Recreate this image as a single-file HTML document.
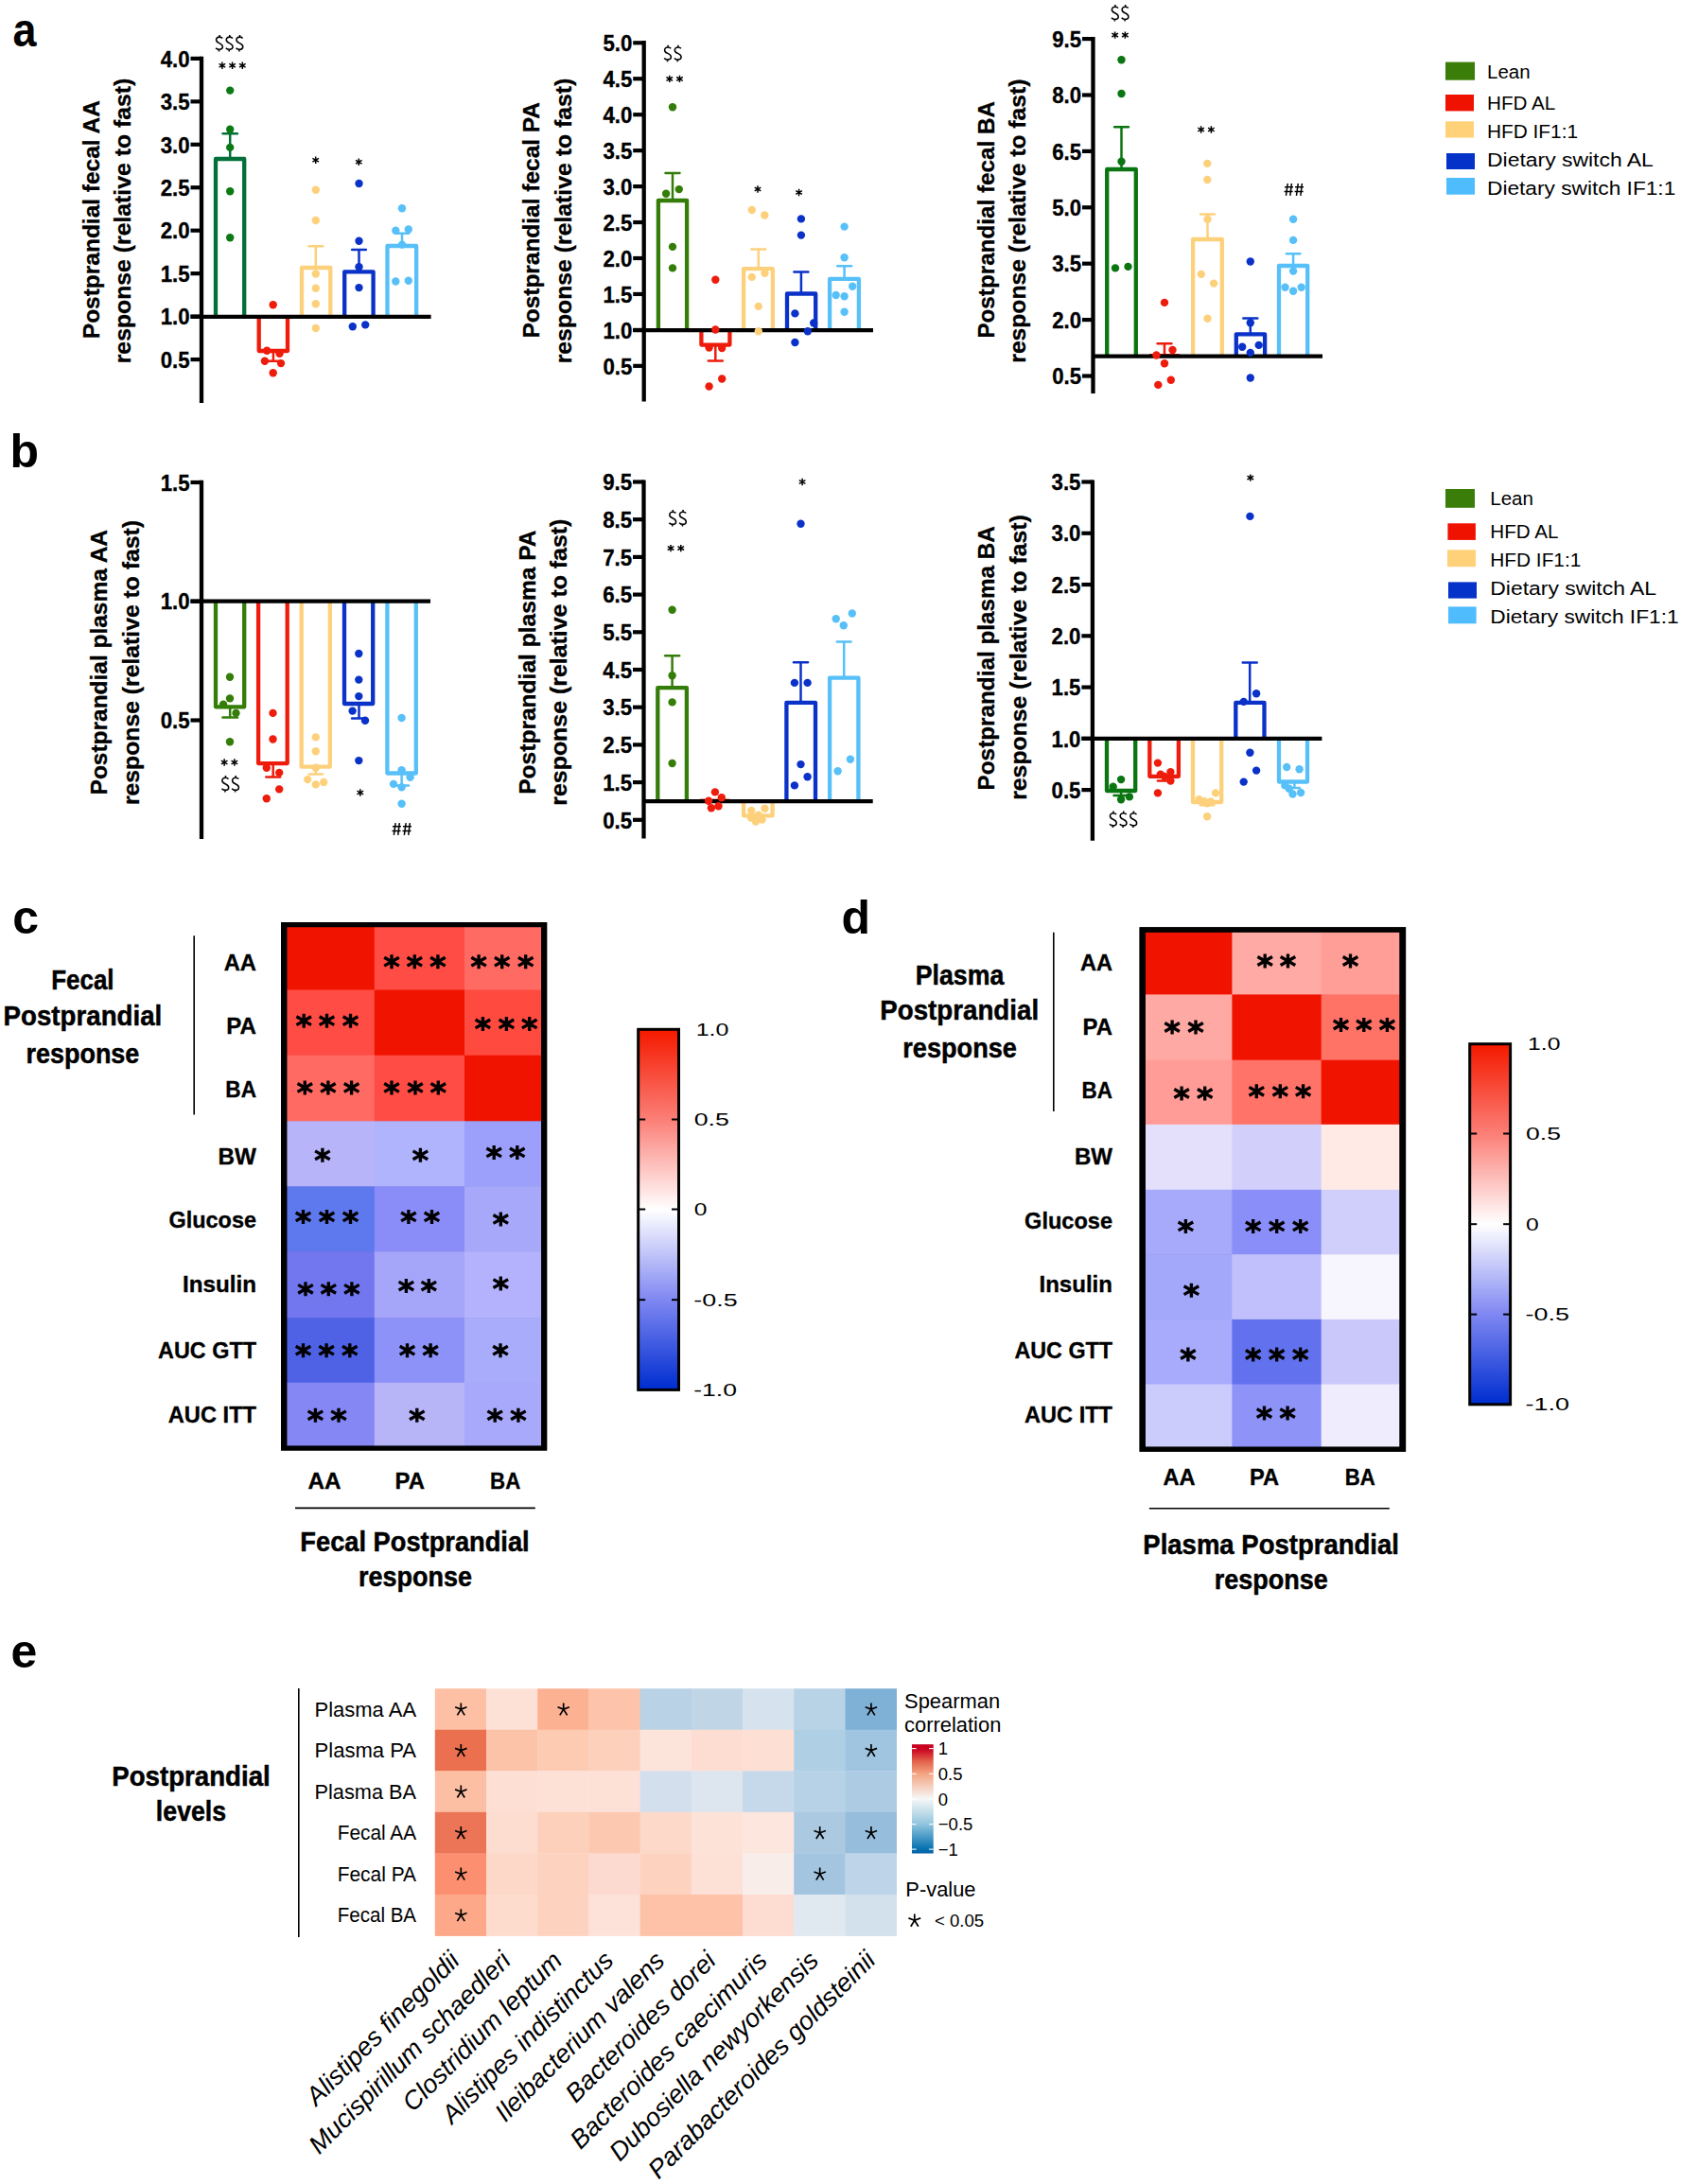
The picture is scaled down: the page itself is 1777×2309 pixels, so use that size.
<!DOCTYPE html>
<html><head><meta charset="utf-8"><title>Figure</title>
<style>
html,body{margin:0;padding:0;background:#fff;}
svg{display:block;font-family:"Liberation Sans", sans-serif;}
.k{fill:none;stroke:#000;}
</style></head><body>
<svg width="1777" height="2309" viewBox="0 0 1777 2309">
<defs>
<linearGradient id="gcd" x1="0" y1="0" x2="0" y2="1">
<stop offset="0" stop-color="#f51a00"/><stop offset="0.25" stop-color="#fb8078"/><stop offset="0.5" stop-color="#ffffff"/><stop offset="0.75" stop-color="#8088f2"/><stop offset="1" stop-color="#002ed0"/>
</linearGradient>
<linearGradient id="ge" x1="0" y1="0" x2="0" y2="1">
<stop offset="0" stop-color="#c4001e"/><stop offset="0.04" stop-color="#ca0020"/><stop offset="0.155" stop-color="#e2614a"/><stop offset="0.27" stop-color="#f4a582"/><stop offset="0.5" stop-color="#f7f7f7"/><stop offset="0.73" stop-color="#92c5de"/><stop offset="0.96" stop-color="#0571b0"/><stop offset="1" stop-color="#0560a8"/>
</linearGradient>
</defs>
<rect width="1777" height="2309" fill="#fff"/>

<text x="13.40" y="49.00" font-size="50" text-anchor="start" font-weight="bold" textLength="25.00" lengthAdjust="spacingAndGlyphs">a</text>
<text x="10.40" y="494.00" font-size="50" text-anchor="start" font-weight="bold">b</text>
<text x="13.20" y="987.30" font-size="50" text-anchor="start" font-weight="bold">c</text>
<text x="889.50" y="987.00" font-size="50" text-anchor="start" font-weight="bold">d</text>
<text x="11.50" y="1763.00" font-size="50" text-anchor="start" font-weight="bold">e</text>
<path d="M228.00 334.80V168.00H258.20V334.80" fill="none" stroke="#027038" stroke-width="4.3" stroke-linejoin="round"/>
<line x1="243.20" y1="168.00" x2="243.20" y2="141.30" stroke="#027038" stroke-width="2.5"/>
<line x1="235.60" y1="141.30" x2="250.80" y2="141.30" stroke="#027038" stroke-width="2.5" stroke-linecap="round"/>
<path d="M273.70 334.80V371.00H304.00V334.80" fill="none" stroke="#ee1c0c" stroke-width="4.3" stroke-linejoin="round"/>
<line x1="288.90" y1="371.00" x2="288.90" y2="381.80" stroke="#ee1c0c" stroke-width="2.5"/>
<line x1="282.10" y1="381.80" x2="295.70" y2="381.80" stroke="#ee1c0c" stroke-width="2.5" stroke-linecap="round"/>
<path d="M319.00 334.80V283.00H349.30V334.80" fill="none" stroke="#fdd17c" stroke-width="4.3" stroke-linejoin="round"/>
<line x1="333.80" y1="283.00" x2="333.80" y2="260.20" stroke="#fdd17c" stroke-width="2.5"/>
<line x1="326.40" y1="260.20" x2="341.20" y2="260.20" stroke="#fdd17c" stroke-width="2.5" stroke-linecap="round"/>
<path d="M364.20 334.80V287.30H394.60V334.80" fill="none" stroke="#0a32c8" stroke-width="4.3" stroke-linejoin="round"/>
<line x1="379.50" y1="287.30" x2="379.50" y2="264.00" stroke="#0a32c8" stroke-width="2.5"/>
<line x1="372.10" y1="264.00" x2="386.90" y2="264.00" stroke="#0a32c8" stroke-width="2.5" stroke-linecap="round"/>
<path d="M409.50 334.80V260.00H440.10V334.80" fill="none" stroke="#58c0f8" stroke-width="4.3" stroke-linejoin="round"/>
<line x1="425.00" y1="260.00" x2="425.00" y2="246.70" stroke="#58c0f8" stroke-width="2.5"/>
<line x1="417.80" y1="246.70" x2="432.20" y2="246.70" stroke="#58c0f8" stroke-width="2.5" stroke-linecap="round"/>
<line x1="213.00" y1="59.80" x2="213.00" y2="426.00" stroke="#000" stroke-width="4.3"/>
<line x1="201.50" y1="61.90" x2="213.20" y2="61.90" stroke="#000" stroke-width="4.2"/>
<text x="200.60" y="70.60" font-size="24.4" text-anchor="end" font-weight="bold" textLength="30.90" lengthAdjust="spacingAndGlyphs" stroke="#000" stroke-width="0.35">4.0</text>
<line x1="201.50" y1="107.35" x2="213.20" y2="107.35" stroke="#000" stroke-width="4.2"/>
<text x="200.60" y="116.05" font-size="24.4" text-anchor="end" font-weight="bold" textLength="30.90" lengthAdjust="spacingAndGlyphs" stroke="#000" stroke-width="0.35">3.5</text>
<line x1="201.50" y1="152.80" x2="213.20" y2="152.80" stroke="#000" stroke-width="4.2"/>
<text x="200.60" y="161.50" font-size="24.4" text-anchor="end" font-weight="bold" textLength="30.90" lengthAdjust="spacingAndGlyphs" stroke="#000" stroke-width="0.35">3.0</text>
<line x1="201.50" y1="198.25" x2="213.20" y2="198.25" stroke="#000" stroke-width="4.2"/>
<text x="200.60" y="206.95" font-size="24.4" text-anchor="end" font-weight="bold" textLength="30.90" lengthAdjust="spacingAndGlyphs" stroke="#000" stroke-width="0.35">2.5</text>
<line x1="201.50" y1="243.70" x2="213.20" y2="243.70" stroke="#000" stroke-width="4.2"/>
<text x="200.60" y="252.40" font-size="24.4" text-anchor="end" font-weight="bold" textLength="30.90" lengthAdjust="spacingAndGlyphs" stroke="#000" stroke-width="0.35">2.0</text>
<line x1="201.50" y1="289.15" x2="213.20" y2="289.15" stroke="#000" stroke-width="4.2"/>
<text x="200.60" y="297.85" font-size="24.4" text-anchor="end" font-weight="bold" textLength="30.90" lengthAdjust="spacingAndGlyphs" stroke="#000" stroke-width="0.35">1.5</text>
<line x1="201.50" y1="334.60" x2="213.20" y2="334.60" stroke="#000" stroke-width="4.2"/>
<text x="200.60" y="343.30" font-size="24.4" text-anchor="end" font-weight="bold" textLength="30.90" lengthAdjust="spacingAndGlyphs" stroke="#000" stroke-width="0.35">1.0</text>
<line x1="201.50" y1="380.05" x2="213.20" y2="380.05" stroke="#000" stroke-width="4.2"/>
<text x="200.60" y="388.75" font-size="24.4" text-anchor="end" font-weight="bold" textLength="30.90" lengthAdjust="spacingAndGlyphs" stroke="#000" stroke-width="0.35">0.5</text>
<line x1="201.50" y1="334.80" x2="455.60" y2="334.80" stroke="#000" stroke-width="4.2"/>
<circle cx="243.20" cy="95.60" r="4.2" fill="#0c7a14"/>
<circle cx="243.20" cy="136.70" r="4.2" fill="#0c7a14"/>
<circle cx="243.20" cy="155.90" r="4.2" fill="#0c7a14"/>
<circle cx="243.20" cy="202.20" r="4.2" fill="#0c7a14"/>
<circle cx="243.20" cy="251.30" r="4.2" fill="#0c7a14"/>
<circle cx="288.70" cy="322.20" r="4.2" fill="#ee1c0c"/>
<circle cx="282.20" cy="370.80" r="4.2" fill="#ee1c0c"/>
<circle cx="295.50" cy="373.80" r="4.2" fill="#ee1c0c"/>
<circle cx="279.90" cy="381.80" r="4.2" fill="#ee1c0c"/>
<circle cx="297.00" cy="384.10" r="4.2" fill="#ee1c0c"/>
<circle cx="288.70" cy="394.20" r="4.2" fill="#ee1c0c"/>
<circle cx="333.80" cy="200.80" r="4.2" fill="#fdd17c"/>
<circle cx="333.80" cy="233.00" r="4.2" fill="#fdd17c"/>
<circle cx="333.80" cy="289.50" r="4.2" fill="#fdd17c"/>
<circle cx="333.80" cy="304.70" r="4.2" fill="#fdd17c"/>
<circle cx="333.80" cy="321.30" r="4.2" fill="#fdd17c"/>
<circle cx="333.80" cy="347.00" r="4.2" fill="#fdd17c"/>
<circle cx="379.50" cy="194.00" r="4.2" fill="#0a32c8"/>
<circle cx="379.50" cy="254.80" r="4.2" fill="#0a32c8"/>
<circle cx="379.50" cy="282.20" r="4.2" fill="#0a32c8"/>
<circle cx="379.50" cy="304.10" r="4.2" fill="#0a32c8"/>
<circle cx="372.80" cy="345.30" r="4.2" fill="#0a32c8"/>
<circle cx="386.20" cy="343.40" r="4.2" fill="#0a32c8"/>
<circle cx="425.00" cy="220.30" r="4.2" fill="#58c0f8"/>
<circle cx="418.30" cy="243.80" r="4.2" fill="#58c0f8"/>
<circle cx="431.80" cy="242.50" r="4.2" fill="#58c0f8"/>
<circle cx="425.00" cy="258.60" r="4.2" fill="#58c0f8"/>
<circle cx="418.30" cy="297.50" r="4.2" fill="#58c0f8"/>
<circle cx="431.80" cy="296.70" r="4.2" fill="#58c0f8"/>
<text x="104.80" y="232.15" font-size="23.2" text-anchor="middle" font-weight="bold" textLength="252.10" lengthAdjust="spacingAndGlyphs" transform="rotate(-90 104.80 232.15)" stroke="#000" stroke-width="0.3">Postprandial fecal AA</text>
<text x="138.30" y="233.50" font-size="23.2" text-anchor="middle" font-weight="bold" textLength="301.60" lengthAdjust="spacingAndGlyphs" transform="rotate(-90 138.30 233.50)" stroke="#000" stroke-width="0.3">response (relative to fast)</text>
<path class="k" d="M3.4 -5.2C2.6 -6.2 1.5 -6.6 0.2 -6.6C-1.8 -6.6 -3.25 -5.4 -3.25 -3.6C-3.25 -1.9 -2.2 -1 0 -0.1C2.35 0.9 3.55 1.8 3.55 3.6C3.55 5.5 2.1 6.6 0 6.6C-1.5 6.6 -2.7 6.1 -3.7 5M0.3 -8.8V-6.4M-0.3 6.4V8.8" stroke-width="1.55" transform="translate(231.80 45.70)"/>
<path class="k" d="M3.4 -5.2C2.6 -6.2 1.5 -6.6 0.2 -6.6C-1.8 -6.6 -3.25 -5.4 -3.25 -3.6C-3.25 -1.9 -2.2 -1 0 -0.1C2.35 0.9 3.55 1.8 3.55 3.6C3.55 5.5 2.1 6.6 0 6.6C-1.5 6.6 -2.7 6.1 -3.7 5M0.3 -8.8V-6.4M-0.3 6.4V8.8" stroke-width="1.55" transform="translate(242.50 45.70)"/>
<path class="k" d="M3.4 -5.2C2.6 -6.2 1.5 -6.6 0.2 -6.6C-1.8 -6.6 -3.25 -5.4 -3.25 -3.6C-3.25 -1.9 -2.2 -1 0 -0.1C2.35 0.9 3.55 1.8 3.55 3.6C3.55 5.5 2.1 6.6 0 6.6C-1.5 6.6 -2.7 6.1 -3.7 5M0.3 -8.8V-6.4M-0.3 6.4V8.8" stroke-width="1.55" transform="translate(253.20 45.70)"/>
<path class="k" d="M0 -3.7V3.7M-3.3 -1.9L3.3 1.9M-3.3 1.9L3.3 -1.9" stroke-width="1.5" transform="translate(234.90 69.30)"/>
<path class="k" d="M0 -3.7V3.7M-3.3 -1.9L3.3 1.9M-3.3 1.9L3.3 -1.9" stroke-width="1.5" transform="translate(245.60 69.30)"/>
<path class="k" d="M0 -3.7V3.7M-3.3 -1.9L3.3 1.9M-3.3 1.9L3.3 -1.9" stroke-width="1.5" transform="translate(256.30 69.30)"/>
<path class="k" d="M0 -3.7V3.7M-3.3 -1.9L3.3 1.9M-3.3 1.9L3.3 -1.9" stroke-width="1.5" transform="translate(333.70 169.30)"/>
<path class="k" d="M0 -3.7V3.7M-3.3 -1.9L3.3 1.9M-3.3 1.9L3.3 -1.9" stroke-width="1.5" transform="translate(379.30 171.30)"/>
<path d="M695.90 349.10V212.00H726.10V349.10" fill="none" stroke="#347d09" stroke-width="4.3" stroke-linejoin="round"/>
<line x1="711.00" y1="212.00" x2="711.00" y2="183.00" stroke="#347d09" stroke-width="2.5"/>
<line x1="703.50" y1="183.00" x2="718.50" y2="183.00" stroke="#347d09" stroke-width="2.5" stroke-linecap="round"/>
<path d="M741.40 349.10V364.60H771.40V349.10" fill="none" stroke="#ee1c0c" stroke-width="4.3" stroke-linejoin="round"/>
<line x1="756.30" y1="364.60" x2="756.30" y2="381.40" stroke="#ee1c0c" stroke-width="2.5"/>
<line x1="748.80" y1="381.40" x2="763.80" y2="381.40" stroke="#ee1c0c" stroke-width="2.5" stroke-linecap="round"/>
<path d="M786.10 349.10V284.20H816.90V349.10" fill="none" stroke="#fdd17c" stroke-width="4.3" stroke-linejoin="round"/>
<line x1="801.80" y1="284.20" x2="801.80" y2="263.40" stroke="#fdd17c" stroke-width="2.5"/>
<line x1="794.40" y1="263.40" x2="809.20" y2="263.40" stroke="#fdd17c" stroke-width="2.5" stroke-linecap="round"/>
<path d="M832.00 349.10V310.50H862.20V349.10" fill="none" stroke="#0a32c8" stroke-width="4.3" stroke-linejoin="round"/>
<line x1="846.90" y1="310.50" x2="846.90" y2="287.60" stroke="#0a32c8" stroke-width="2.5"/>
<line x1="839.40" y1="287.60" x2="854.40" y2="287.60" stroke="#0a32c8" stroke-width="2.5" stroke-linecap="round"/>
<path d="M877.10 349.10V294.90H907.90V349.10" fill="none" stroke="#58c0f8" stroke-width="4.3" stroke-linejoin="round"/>
<line x1="892.60" y1="294.90" x2="892.60" y2="281.30" stroke="#58c0f8" stroke-width="2.5"/>
<line x1="885.20" y1="281.30" x2="900.00" y2="281.30" stroke="#58c0f8" stroke-width="2.5" stroke-linecap="round"/>
<line x1="680.70" y1="43.10" x2="680.70" y2="424.60" stroke="#000" stroke-width="4.3"/>
<line x1="669.20" y1="45.30" x2="680.90" y2="45.30" stroke="#000" stroke-width="4.2"/>
<text x="668.30" y="54.00" font-size="24.4" text-anchor="end" font-weight="bold" textLength="30.90" lengthAdjust="spacingAndGlyphs" stroke="#000" stroke-width="0.35">5.0</text>
<line x1="669.20" y1="83.25" x2="680.90" y2="83.25" stroke="#000" stroke-width="4.2"/>
<text x="668.30" y="91.95" font-size="24.4" text-anchor="end" font-weight="bold" textLength="30.90" lengthAdjust="spacingAndGlyphs" stroke="#000" stroke-width="0.35">4.5</text>
<line x1="669.20" y1="121.20" x2="680.90" y2="121.20" stroke="#000" stroke-width="4.2"/>
<text x="668.30" y="129.90" font-size="24.4" text-anchor="end" font-weight="bold" textLength="30.90" lengthAdjust="spacingAndGlyphs" stroke="#000" stroke-width="0.35">4.0</text>
<line x1="669.20" y1="159.15" x2="680.90" y2="159.15" stroke="#000" stroke-width="4.2"/>
<text x="668.30" y="167.85" font-size="24.4" text-anchor="end" font-weight="bold" textLength="30.90" lengthAdjust="spacingAndGlyphs" stroke="#000" stroke-width="0.35">3.5</text>
<line x1="669.20" y1="197.10" x2="680.90" y2="197.10" stroke="#000" stroke-width="4.2"/>
<text x="668.30" y="205.80" font-size="24.4" text-anchor="end" font-weight="bold" textLength="30.90" lengthAdjust="spacingAndGlyphs" stroke="#000" stroke-width="0.35">3.0</text>
<line x1="669.20" y1="235.05" x2="680.90" y2="235.05" stroke="#000" stroke-width="4.2"/>
<text x="668.30" y="243.75" font-size="24.4" text-anchor="end" font-weight="bold" textLength="30.90" lengthAdjust="spacingAndGlyphs" stroke="#000" stroke-width="0.35">2.5</text>
<line x1="669.20" y1="273.00" x2="680.90" y2="273.00" stroke="#000" stroke-width="4.2"/>
<text x="668.30" y="281.70" font-size="24.4" text-anchor="end" font-weight="bold" textLength="30.90" lengthAdjust="spacingAndGlyphs" stroke="#000" stroke-width="0.35">2.0</text>
<line x1="669.20" y1="310.95" x2="680.90" y2="310.95" stroke="#000" stroke-width="4.2"/>
<text x="668.30" y="319.65" font-size="24.4" text-anchor="end" font-weight="bold" textLength="30.90" lengthAdjust="spacingAndGlyphs" stroke="#000" stroke-width="0.35">1.5</text>
<line x1="669.20" y1="348.90" x2="680.90" y2="348.90" stroke="#000" stroke-width="4.2"/>
<text x="668.30" y="357.60" font-size="24.4" text-anchor="end" font-weight="bold" textLength="30.90" lengthAdjust="spacingAndGlyphs" stroke="#000" stroke-width="0.35">1.0</text>
<line x1="669.20" y1="386.85" x2="680.90" y2="386.85" stroke="#000" stroke-width="4.2"/>
<text x="668.30" y="395.55" font-size="24.4" text-anchor="end" font-weight="bold" textLength="30.90" lengthAdjust="spacingAndGlyphs" stroke="#000" stroke-width="0.35">0.5</text>
<line x1="669.20" y1="349.10" x2="923.00" y2="349.10" stroke="#000" stroke-width="4.2"/>
<circle cx="711.00" cy="113.30" r="4.2" fill="#347d09"/>
<circle cx="704.10" cy="204.70" r="4.2" fill="#347d09"/>
<circle cx="717.80" cy="200.10" r="4.2" fill="#347d09"/>
<circle cx="711.00" cy="260.90" r="4.2" fill="#347d09"/>
<circle cx="711.00" cy="283.40" r="4.2" fill="#347d09"/>
<circle cx="756.30" cy="295.80" r="4.2" fill="#ee1c0c"/>
<circle cx="756.30" cy="348.50" r="4.2" fill="#ee1c0c"/>
<circle cx="749.60" cy="367.50" r="4.2" fill="#ee1c0c"/>
<circle cx="763.20" cy="368.10" r="4.2" fill="#ee1c0c"/>
<circle cx="763.20" cy="400.50" r="4.2" fill="#ee1c0c"/>
<circle cx="749.60" cy="408.50" r="4.2" fill="#ee1c0c"/>
<circle cx="794.80" cy="222.00" r="4.2" fill="#fdd17c"/>
<circle cx="808.30" cy="227.50" r="4.2" fill="#fdd17c"/>
<circle cx="794.80" cy="292.90" r="4.2" fill="#fdd17c"/>
<circle cx="808.50" cy="288.90" r="4.2" fill="#fdd17c"/>
<circle cx="801.80" cy="323.90" r="4.2" fill="#fdd17c"/>
<circle cx="801.80" cy="350.20" r="4.2" fill="#fdd17c"/>
<circle cx="846.90" cy="231.40" r="4.2" fill="#0a32c8"/>
<circle cx="846.90" cy="248.60" r="4.2" fill="#0a32c8"/>
<circle cx="840.40" cy="331.40" r="4.2" fill="#0a32c8"/>
<circle cx="860.20" cy="341.50" r="4.2" fill="#0a32c8"/>
<circle cx="853.80" cy="350.20" r="4.2" fill="#0a32c8"/>
<circle cx="840.40" cy="362.00" r="4.2" fill="#0a32c8"/>
<circle cx="892.60" cy="239.60" r="4.2" fill="#58c0f8"/>
<circle cx="892.60" cy="272.20" r="4.2" fill="#58c0f8"/>
<circle cx="901.20" cy="302.80" r="4.2" fill="#58c0f8"/>
<circle cx="883.70" cy="312.00" r="4.2" fill="#58c0f8"/>
<circle cx="892.60" cy="313.30" r="4.2" fill="#58c0f8"/>
<circle cx="892.60" cy="329.80" r="4.2" fill="#58c0f8"/>
<text x="569.70" y="232.80" font-size="23.2" text-anchor="middle" font-weight="bold" textLength="249.60" lengthAdjust="spacingAndGlyphs" transform="rotate(-90 569.70 232.80)" stroke="#000" stroke-width="0.3">Postprandial fecal PA</text>
<text x="603.90" y="233.50" font-size="23.2" text-anchor="middle" font-weight="bold" textLength="301.60" lengthAdjust="spacingAndGlyphs" transform="rotate(-90 603.90 233.50)" stroke="#000" stroke-width="0.3">response (relative to fast)</text>
<path class="k" d="M3.4 -5.2C2.6 -6.2 1.5 -6.6 0.2 -6.6C-1.8 -6.6 -3.25 -5.4 -3.25 -3.6C-3.25 -1.9 -2.2 -1 0 -0.1C2.35 0.9 3.55 1.8 3.55 3.6C3.55 5.5 2.1 6.6 0 6.6C-1.5 6.6 -2.7 6.1 -3.7 5M0.3 -8.8V-6.4M-0.3 6.4V8.8" stroke-width="1.55" transform="translate(705.85 56.50)"/>
<path class="k" d="M3.4 -5.2C2.6 -6.2 1.5 -6.6 0.2 -6.6C-1.8 -6.6 -3.25 -5.4 -3.25 -3.6C-3.25 -1.9 -2.2 -1 0 -0.1C2.35 0.9 3.55 1.8 3.55 3.6C3.55 5.5 2.1 6.6 0 6.6C-1.5 6.6 -2.7 6.1 -3.7 5M0.3 -8.8V-6.4M-0.3 6.4V8.8" stroke-width="1.55" transform="translate(716.55 56.50)"/>
<path class="k" d="M0 -3.7V3.7M-3.3 -1.9L3.3 1.9M-3.3 1.9L3.3 -1.9" stroke-width="1.5" transform="translate(707.75 83.40)"/>
<path class="k" d="M0 -3.7V3.7M-3.3 -1.9L3.3 1.9M-3.3 1.9L3.3 -1.9" stroke-width="1.5" transform="translate(718.45 83.40)"/>
<path class="k" d="M0 -3.7V3.7M-3.3 -1.9L3.3 1.9M-3.3 1.9L3.3 -1.9" stroke-width="1.5" transform="translate(801.00 200.00)"/>
<path class="k" d="M0 -3.7V3.7M-3.3 -1.9L3.3 1.9M-3.3 1.9L3.3 -1.9" stroke-width="1.5" transform="translate(844.60 203.50)"/>
<path d="M1170.20 376.70V179.00H1200.80V376.70" fill="none" stroke="#0b7511" stroke-width="4.3" stroke-linejoin="round"/>
<line x1="1185.50" y1="179.00" x2="1185.50" y2="134.20" stroke="#0b7511" stroke-width="2.5"/>
<line x1="1178.10" y1="134.20" x2="1192.90" y2="134.20" stroke="#0b7511" stroke-width="2.5" stroke-linecap="round"/>
<line x1="1215.00" y1="374.60" x2="1247.00" y2="374.60" stroke="#ee1c0c" stroke-width="1.2"/>
<line x1="1231.00" y1="374.60" x2="1231.00" y2="363.30" stroke="#ee1c0c" stroke-width="2.5"/>
<line x1="1223.60" y1="363.30" x2="1238.40" y2="363.30" stroke="#ee1c0c" stroke-width="2.5" stroke-linecap="round"/>
<path d="M1261.10 376.70V253.00H1291.80V376.70" fill="none" stroke="#fdd17c" stroke-width="4.3" stroke-linejoin="round"/>
<line x1="1276.50" y1="253.00" x2="1276.50" y2="226.60" stroke="#fdd17c" stroke-width="2.5"/>
<line x1="1269.10" y1="226.60" x2="1283.90" y2="226.60" stroke="#fdd17c" stroke-width="2.5" stroke-linecap="round"/>
<path d="M1306.80 376.70V353.30H1337.10V376.70" fill="none" stroke="#0a32c8" stroke-width="4.3" stroke-linejoin="round"/>
<line x1="1321.80" y1="353.30" x2="1321.80" y2="336.50" stroke="#0a32c8" stroke-width="2.5"/>
<line x1="1314.30" y1="336.50" x2="1329.30" y2="336.50" stroke="#0a32c8" stroke-width="2.5" stroke-linecap="round"/>
<path d="M1352.00 376.70V281.00H1382.20V376.70" fill="none" stroke="#58c0f8" stroke-width="4.3" stroke-linejoin="round"/>
<line x1="1367.10" y1="281.00" x2="1367.10" y2="268.20" stroke="#58c0f8" stroke-width="2.5"/>
<line x1="1359.90" y1="268.20" x2="1374.30" y2="268.20" stroke="#58c0f8" stroke-width="2.5" stroke-linecap="round"/>
<line x1="1155.50" y1="38.90" x2="1155.50" y2="416.00" stroke="#000" stroke-width="4.3"/>
<line x1="1144.00" y1="41.10" x2="1155.70" y2="41.10" stroke="#000" stroke-width="4.2"/>
<text x="1143.10" y="49.80" font-size="24.4" text-anchor="end" font-weight="bold" textLength="30.90" lengthAdjust="spacingAndGlyphs" stroke="#000" stroke-width="0.35">9.5</text>
<line x1="1144.00" y1="100.50" x2="1155.70" y2="100.50" stroke="#000" stroke-width="4.2"/>
<text x="1143.10" y="109.20" font-size="24.4" text-anchor="end" font-weight="bold" textLength="30.90" lengthAdjust="spacingAndGlyphs" stroke="#000" stroke-width="0.35">8.0</text>
<line x1="1144.00" y1="159.90" x2="1155.70" y2="159.90" stroke="#000" stroke-width="4.2"/>
<text x="1143.10" y="168.60" font-size="24.4" text-anchor="end" font-weight="bold" textLength="30.90" lengthAdjust="spacingAndGlyphs" stroke="#000" stroke-width="0.35">6.5</text>
<line x1="1144.00" y1="219.30" x2="1155.70" y2="219.30" stroke="#000" stroke-width="4.2"/>
<text x="1143.10" y="228.00" font-size="24.4" text-anchor="end" font-weight="bold" textLength="30.90" lengthAdjust="spacingAndGlyphs" stroke="#000" stroke-width="0.35">5.0</text>
<line x1="1144.00" y1="278.70" x2="1155.70" y2="278.70" stroke="#000" stroke-width="4.2"/>
<text x="1143.10" y="287.40" font-size="24.4" text-anchor="end" font-weight="bold" textLength="30.90" lengthAdjust="spacingAndGlyphs" stroke="#000" stroke-width="0.35">3.5</text>
<line x1="1144.00" y1="338.10" x2="1155.70" y2="338.10" stroke="#000" stroke-width="4.2"/>
<text x="1143.10" y="346.80" font-size="24.4" text-anchor="end" font-weight="bold" textLength="30.90" lengthAdjust="spacingAndGlyphs" stroke="#000" stroke-width="0.35">2.0</text>
<line x1="1144.00" y1="397.50" x2="1155.70" y2="397.50" stroke="#000" stroke-width="4.2"/>
<text x="1143.10" y="406.20" font-size="24.4" text-anchor="end" font-weight="bold" textLength="30.90" lengthAdjust="spacingAndGlyphs" stroke="#000" stroke-width="0.35">0.5</text>
<line x1="1155.70" y1="376.70" x2="1398.00" y2="376.70" stroke="#000" stroke-width="4.2"/>
<circle cx="1185.50" cy="63.20" r="4.2" fill="#0b7511"/>
<circle cx="1185.50" cy="99.00" r="4.2" fill="#0b7511"/>
<circle cx="1185.50" cy="170.80" r="4.2" fill="#0b7511"/>
<circle cx="1179.00" cy="283.40" r="4.2" fill="#0b7511"/>
<circle cx="1192.50" cy="281.90" r="4.2" fill="#0b7511"/>
<circle cx="1231.00" cy="319.90" r="4.2" fill="#ee1c0c"/>
<circle cx="1239.50" cy="370.00" r="4.2" fill="#ee1c0c"/>
<circle cx="1222.40" cy="375.50" r="4.2" fill="#ee1c0c"/>
<circle cx="1231.00" cy="384.30" r="4.2" fill="#ee1c0c"/>
<circle cx="1237.80" cy="401.80" r="4.2" fill="#ee1c0c"/>
<circle cx="1224.30" cy="406.90" r="4.2" fill="#ee1c0c"/>
<circle cx="1276.30" cy="172.90" r="4.2" fill="#fdd17c"/>
<circle cx="1276.30" cy="190.00" r="4.2" fill="#fdd17c"/>
<circle cx="1276.50" cy="231.80" r="4.2" fill="#fdd17c"/>
<circle cx="1269.80" cy="289.90" r="4.2" fill="#fdd17c"/>
<circle cx="1283.10" cy="299.60" r="4.2" fill="#fdd17c"/>
<circle cx="1276.50" cy="336.70" r="4.2" fill="#fdd17c"/>
<circle cx="1321.80" cy="276.50" r="4.2" fill="#0a32c8"/>
<circle cx="1321.80" cy="341.30" r="4.2" fill="#0a32c8"/>
<circle cx="1313.20" cy="366.80" r="4.2" fill="#0a32c8"/>
<circle cx="1330.70" cy="364.90" r="4.2" fill="#0a32c8"/>
<circle cx="1321.80" cy="372.90" r="4.2" fill="#0a32c8"/>
<circle cx="1321.80" cy="399.50" r="4.2" fill="#0a32c8"/>
<circle cx="1367.10" cy="231.80" r="4.2" fill="#58c0f8"/>
<circle cx="1367.10" cy="253.90" r="4.2" fill="#58c0f8"/>
<circle cx="1367.10" cy="286.60" r="4.2" fill="#58c0f8"/>
<circle cx="1358.50" cy="303.80" r="4.2" fill="#58c0f8"/>
<circle cx="1367.10" cy="307.70" r="4.2" fill="#58c0f8"/>
<circle cx="1375.70" cy="303.80" r="4.2" fill="#58c0f8"/>
<text x="1051.20" y="232.35" font-size="23.2" text-anchor="middle" font-weight="bold" textLength="250.50" lengthAdjust="spacingAndGlyphs" transform="rotate(-90 1051.20 232.35)" stroke="#000" stroke-width="0.3">Postprandial fecal BA</text>
<text x="1084.50" y="233.65" font-size="23.2" text-anchor="middle" font-weight="bold" textLength="300.10" lengthAdjust="spacingAndGlyphs" transform="rotate(-90 1084.50 233.65)" stroke="#000" stroke-width="0.3">response (relative to fast)</text>
<path class="k" d="M3.4 -5.2C2.6 -6.2 1.5 -6.6 0.2 -6.6C-1.8 -6.6 -3.25 -5.4 -3.25 -3.6C-3.25 -1.9 -2.2 -1 0 -0.1C2.35 0.9 3.55 1.8 3.55 3.6C3.55 5.5 2.1 6.6 0 6.6C-1.5 6.6 -2.7 6.1 -3.7 5M0.3 -8.8V-6.4M-0.3 6.4V8.8" stroke-width="1.55" transform="translate(1178.65 13.80)"/>
<path class="k" d="M3.4 -5.2C2.6 -6.2 1.5 -6.6 0.2 -6.6C-1.8 -6.6 -3.25 -5.4 -3.25 -3.6C-3.25 -1.9 -2.2 -1 0 -0.1C2.35 0.9 3.55 1.8 3.55 3.6C3.55 5.5 2.1 6.6 0 6.6C-1.5 6.6 -2.7 6.1 -3.7 5M0.3 -8.8V-6.4M-0.3 6.4V8.8" stroke-width="1.55" transform="translate(1189.35 13.80)"/>
<path class="k" d="M0 -3.7V3.7M-3.3 -1.9L3.3 1.9M-3.3 1.9L3.3 -1.9" stroke-width="1.5" transform="translate(1178.65 37.10)"/>
<path class="k" d="M0 -3.7V3.7M-3.3 -1.9L3.3 1.9M-3.3 1.9L3.3 -1.9" stroke-width="1.5" transform="translate(1189.35 37.10)"/>
<path class="k" d="M0 -3.7V3.7M-3.3 -1.9L3.3 1.9M-3.3 1.9L3.3 -1.9" stroke-width="1.5" transform="translate(1269.65 137.00)"/>
<path class="k" d="M0 -3.7V3.7M-3.3 -1.9L3.3 1.9M-3.3 1.9L3.3 -1.9" stroke-width="1.5" transform="translate(1280.35 137.00)"/>
<path class="k" d="M-1.05 -6.4L-2.85 6.4M3.1 -6.4L1.55 6.4M-4.2 -2.7H4.7M-4.7 2.1H4.3" stroke-width="1.5" transform="translate(1362.30 200.40)"/>
<path class="k" d="M-1.05 -6.4L-2.85 6.4M3.1 -6.4L1.55 6.4M-4.2 -2.7H4.7M-4.7 2.1H4.3" stroke-width="1.5" transform="translate(1373.30 200.40)"/>
<rect x="1528.00" y="65.60" width="31.00" height="19.10" fill="#3b7d09"/>
<text x="1572.00" y="83.00" font-size="20.5" text-anchor="start" textLength="45.60" lengthAdjust="spacingAndGlyphs">Lean</text>
<rect x="1528.00" y="100.00" width="30.00" height="17.40" fill="#f01200"/>
<text x="1572.00" y="115.50" font-size="20.5" text-anchor="start" textLength="72.20" lengthAdjust="spacingAndGlyphs">HFD AL</text>
<rect x="1528.00" y="128.30" width="30.00" height="17.30" fill="#ffd279"/>
<text x="1572.00" y="145.50" font-size="20.5" text-anchor="start" textLength="96.00" lengthAdjust="spacingAndGlyphs">HFD IF1:1</text>
<rect x="1529.00" y="162.00" width="30.00" height="17.00" fill="#0532c8"/>
<text x="1572.00" y="175.80" font-size="20.5" text-anchor="start" textLength="175.80" lengthAdjust="spacingAndGlyphs">Dietary switch AL</text>
<rect x="1529.00" y="188.00" width="30.00" height="17.70" fill="#4fbcfd"/>
<text x="1572.00" y="206.00" font-size="20.5" text-anchor="start" textLength="199.30" lengthAdjust="spacingAndGlyphs">Dietary switch IF1:1</text>
<path d="M228.00 635.70V747.30H258.20V635.70" fill="none" stroke="#347d09" stroke-width="4.3" stroke-linejoin="round"/>
<line x1="243.20" y1="747.30" x2="243.20" y2="758.40" stroke="#347d09" stroke-width="2.5"/>
<line x1="235.40" y1="758.40" x2="251.00" y2="758.40" stroke="#347d09" stroke-width="2.5" stroke-linecap="round"/>
<path d="M273.10 635.70V807.10H303.70V635.70" fill="none" stroke="#ee1c0c" stroke-width="4.3" stroke-linejoin="round"/>
<line x1="288.70" y1="807.10" x2="288.70" y2="821.40" stroke="#ee1c0c" stroke-width="2.5"/>
<line x1="281.30" y1="821.40" x2="296.10" y2="821.40" stroke="#ee1c0c" stroke-width="2.5" stroke-linecap="round"/>
<path d="M318.70 635.70V810.70H348.80V635.70" fill="none" stroke="#fdd17c" stroke-width="4.3" stroke-linejoin="round"/>
<line x1="333.80" y1="810.70" x2="333.80" y2="818.60" stroke="#fdd17c" stroke-width="2.5"/>
<line x1="326.60" y1="818.60" x2="341.00" y2="818.60" stroke="#fdd17c" stroke-width="2.5" stroke-linecap="round"/>
<path d="M364.00 635.70V744.00H394.20V635.70" fill="none" stroke="#0a32c8" stroke-width="4.3" stroke-linejoin="round"/>
<line x1="379.50" y1="744.00" x2="379.50" y2="759.40" stroke="#0a32c8" stroke-width="2.5"/>
<line x1="372.10" y1="759.40" x2="386.90" y2="759.40" stroke="#0a32c8" stroke-width="2.5" stroke-linecap="round"/>
<path d="M409.40 635.70V817.50H439.80V635.70" fill="none" stroke="#58c0f8" stroke-width="4.3" stroke-linejoin="round"/>
<line x1="424.60" y1="817.50" x2="424.60" y2="830.40" stroke="#58c0f8" stroke-width="2.5"/>
<line x1="417.20" y1="830.40" x2="432.00" y2="830.40" stroke="#58c0f8" stroke-width="2.5" stroke-linecap="round"/>
<line x1="213.00" y1="507.80" x2="213.00" y2="886.90" stroke="#000" stroke-width="4.3"/>
<line x1="201.50" y1="510.00" x2="213.20" y2="510.00" stroke="#000" stroke-width="4.2"/>
<text x="200.60" y="518.70" font-size="24.4" text-anchor="end" font-weight="bold" textLength="30.90" lengthAdjust="spacingAndGlyphs" stroke="#000" stroke-width="0.35">1.5</text>
<line x1="201.50" y1="635.75" x2="213.20" y2="635.75" stroke="#000" stroke-width="4.2"/>
<text x="200.60" y="644.45" font-size="24.4" text-anchor="end" font-weight="bold" textLength="30.90" lengthAdjust="spacingAndGlyphs" stroke="#000" stroke-width="0.35">1.0</text>
<line x1="201.50" y1="761.50" x2="213.20" y2="761.50" stroke="#000" stroke-width="4.2"/>
<text x="200.60" y="770.20" font-size="24.4" text-anchor="end" font-weight="bold" textLength="30.90" lengthAdjust="spacingAndGlyphs" stroke="#000" stroke-width="0.35">0.5</text>
<line x1="201.50" y1="635.70" x2="455.00" y2="635.70" stroke="#000" stroke-width="4.2"/>
<circle cx="243.00" cy="715.80" r="4.2" fill="#347d09"/>
<circle cx="243.00" cy="738.40" r="4.2" fill="#347d09"/>
<circle cx="236.10" cy="744.70" r="4.2" fill="#347d09"/>
<circle cx="249.50" cy="753.90" r="4.2" fill="#347d09"/>
<circle cx="243.00" cy="784.30" r="4.2" fill="#347d09"/>
<circle cx="288.50" cy="753.90" r="4.2" fill="#ee1c0c"/>
<circle cx="288.50" cy="781.50" r="4.2" fill="#ee1c0c"/>
<circle cx="281.80" cy="811.70" r="4.2" fill="#ee1c0c"/>
<circle cx="295.20" cy="816.90" r="4.2" fill="#ee1c0c"/>
<circle cx="295.20" cy="834.40" r="4.2" fill="#ee1c0c"/>
<circle cx="281.80" cy="844.30" r="4.2" fill="#ee1c0c"/>
<circle cx="333.80" cy="779.40" r="4.2" fill="#fdd17c"/>
<circle cx="333.80" cy="794.20" r="4.2" fill="#fdd17c"/>
<circle cx="333.80" cy="811.70" r="4.2" fill="#fdd17c"/>
<circle cx="325.20" cy="824.10" r="4.2" fill="#fdd17c"/>
<circle cx="342.20" cy="827.00" r="4.2" fill="#fdd17c"/>
<circle cx="333.80" cy="829.40" r="4.2" fill="#fdd17c"/>
<circle cx="379.30" cy="691.00" r="4.2" fill="#0a32c8"/>
<circle cx="379.30" cy="718.60" r="4.2" fill="#0a32c8"/>
<circle cx="379.30" cy="736.10" r="4.2" fill="#0a32c8"/>
<circle cx="372.60" cy="751.60" r="4.2" fill="#0a32c8"/>
<circle cx="386.00" cy="761.70" r="4.2" fill="#0a32c8"/>
<circle cx="379.30" cy="804.10" r="4.2" fill="#0a32c8"/>
<circle cx="424.60" cy="759.00" r="4.2" fill="#58c0f8"/>
<circle cx="424.60" cy="814.20" r="4.2" fill="#58c0f8"/>
<circle cx="433.60" cy="821.80" r="4.2" fill="#58c0f8"/>
<circle cx="416.00" cy="828.90" r="4.2" fill="#58c0f8"/>
<circle cx="424.60" cy="832.30" r="4.2" fill="#58c0f8"/>
<circle cx="424.60" cy="849.80" r="4.2" fill="#58c0f8"/>
<text x="113.30" y="700.20" font-size="23.2" text-anchor="middle" font-weight="bold" textLength="280.40" lengthAdjust="spacingAndGlyphs" transform="rotate(-90 113.30 700.20)" stroke="#000" stroke-width="0.3">Postprandial plasma AA</text>
<text x="146.80" y="700.55" font-size="23.2" text-anchor="middle" font-weight="bold" textLength="301.10" lengthAdjust="spacingAndGlyphs" transform="rotate(-90 146.80 700.55)" stroke="#000" stroke-width="0.3">response (relative to fast)</text>
<path class="k" d="M0 -3.7V3.7M-3.3 -1.9L3.3 1.9M-3.3 1.9L3.3 -1.9" stroke-width="1.5" transform="translate(237.15 806.00)"/>
<path class="k" d="M0 -3.7V3.7M-3.3 -1.9L3.3 1.9M-3.3 1.9L3.3 -1.9" stroke-width="1.5" transform="translate(247.85 806.00)"/>
<path class="k" d="M3.4 -5.2C2.6 -6.2 1.5 -6.6 0.2 -6.6C-1.8 -6.6 -3.25 -5.4 -3.25 -3.6C-3.25 -1.9 -2.2 -1 0 -0.1C2.35 0.9 3.55 1.8 3.55 3.6C3.55 5.5 2.1 6.6 0 6.6C-1.5 6.6 -2.7 6.1 -3.7 5M0.3 -8.8V-6.4M-0.3 6.4V8.8" stroke-width="1.55" transform="translate(238.15 828.80)"/>
<path class="k" d="M3.4 -5.2C2.6 -6.2 1.5 -6.6 0.2 -6.6C-1.8 -6.6 -3.25 -5.4 -3.25 -3.6C-3.25 -1.9 -2.2 -1 0 -0.1C2.35 0.9 3.55 1.8 3.55 3.6C3.55 5.5 2.1 6.6 0 6.6C-1.5 6.6 -2.7 6.1 -3.7 5M0.3 -8.8V-6.4M-0.3 6.4V8.8" stroke-width="1.55" transform="translate(248.85 828.80)"/>
<path class="k" d="M0 -3.7V3.7M-3.3 -1.9L3.3 1.9M-3.3 1.9L3.3 -1.9" stroke-width="1.5" transform="translate(380.80 838.00)"/>
<path class="k" d="M-1.05 -6.4L-2.85 6.4M3.1 -6.4L1.55 6.4M-4.2 -2.7H4.7M-4.7 2.1H4.3" stroke-width="1.5" transform="translate(419.20 876.50)"/>
<path class="k" d="M-1.05 -6.4L-2.85 6.4M3.1 -6.4L1.55 6.4M-4.2 -2.7H4.7M-4.7 2.1H4.3" stroke-width="1.5" transform="translate(430.20 876.50)"/>
<path d="M695.30 847.10V727.10H725.90V847.10" fill="none" stroke="#347d09" stroke-width="4.3" stroke-linejoin="round"/>
<line x1="710.60" y1="727.10" x2="710.60" y2="693.30" stroke="#347d09" stroke-width="2.5"/>
<line x1="703.10" y1="693.30" x2="718.10" y2="693.30" stroke="#347d09" stroke-width="2.5" stroke-linecap="round"/>
<line x1="740.00" y1="845.20" x2="771.30" y2="845.20" stroke="#ee1c0c" stroke-width="1.2"/>
<path d="M786.10 847.10V862.30H816.60V847.10" fill="none" stroke="#fdd17c" stroke-width="4.3" stroke-linejoin="round"/>
<path d="M831.40 847.10V742.90H862.00V847.10" fill="none" stroke="#0a32c8" stroke-width="4.3" stroke-linejoin="round"/>
<line x1="846.50" y1="742.90" x2="846.50" y2="700.20" stroke="#0a32c8" stroke-width="2.5"/>
<line x1="839.00" y1="700.20" x2="854.00" y2="700.20" stroke="#0a32c8" stroke-width="2.5" stroke-linecap="round"/>
<path d="M877.10 847.10V716.60H907.40V847.10" fill="none" stroke="#58c0f8" stroke-width="4.3" stroke-linejoin="round"/>
<line x1="892.20" y1="716.60" x2="892.20" y2="678.60" stroke="#58c0f8" stroke-width="2.5"/>
<line x1="884.80" y1="678.60" x2="899.60" y2="678.60" stroke="#58c0f8" stroke-width="2.5" stroke-linecap="round"/>
<line x1="680.50" y1="507.40" x2="680.50" y2="886.50" stroke="#000" stroke-width="4.3"/>
<line x1="669.00" y1="509.50" x2="680.70" y2="509.50" stroke="#000" stroke-width="4.2"/>
<text x="668.10" y="518.20" font-size="24.4" text-anchor="end" font-weight="bold" textLength="30.90" lengthAdjust="spacingAndGlyphs" stroke="#000" stroke-width="0.35">9.5</text>
<line x1="669.00" y1="549.20" x2="680.70" y2="549.20" stroke="#000" stroke-width="4.2"/>
<text x="668.10" y="557.90" font-size="24.4" text-anchor="end" font-weight="bold" textLength="30.90" lengthAdjust="spacingAndGlyphs" stroke="#000" stroke-width="0.35">8.5</text>
<line x1="669.00" y1="588.90" x2="680.70" y2="588.90" stroke="#000" stroke-width="4.2"/>
<text x="668.10" y="597.60" font-size="24.4" text-anchor="end" font-weight="bold" textLength="30.90" lengthAdjust="spacingAndGlyphs" stroke="#000" stroke-width="0.35">7.5</text>
<line x1="669.00" y1="628.60" x2="680.70" y2="628.60" stroke="#000" stroke-width="4.2"/>
<text x="668.10" y="637.30" font-size="24.4" text-anchor="end" font-weight="bold" textLength="30.90" lengthAdjust="spacingAndGlyphs" stroke="#000" stroke-width="0.35">6.5</text>
<line x1="669.00" y1="668.30" x2="680.70" y2="668.30" stroke="#000" stroke-width="4.2"/>
<text x="668.10" y="677.00" font-size="24.4" text-anchor="end" font-weight="bold" textLength="30.90" lengthAdjust="spacingAndGlyphs" stroke="#000" stroke-width="0.35">5.5</text>
<line x1="669.00" y1="708.00" x2="680.70" y2="708.00" stroke="#000" stroke-width="4.2"/>
<text x="668.10" y="716.70" font-size="24.4" text-anchor="end" font-weight="bold" textLength="30.90" lengthAdjust="spacingAndGlyphs" stroke="#000" stroke-width="0.35">4.5</text>
<line x1="669.00" y1="747.70" x2="680.70" y2="747.70" stroke="#000" stroke-width="4.2"/>
<text x="668.10" y="756.40" font-size="24.4" text-anchor="end" font-weight="bold" textLength="30.90" lengthAdjust="spacingAndGlyphs" stroke="#000" stroke-width="0.35">3.5</text>
<line x1="669.00" y1="787.40" x2="680.70" y2="787.40" stroke="#000" stroke-width="4.2"/>
<text x="668.10" y="796.10" font-size="24.4" text-anchor="end" font-weight="bold" textLength="30.90" lengthAdjust="spacingAndGlyphs" stroke="#000" stroke-width="0.35">2.5</text>
<line x1="669.00" y1="827.10" x2="680.70" y2="827.10" stroke="#000" stroke-width="4.2"/>
<text x="668.10" y="835.80" font-size="24.4" text-anchor="end" font-weight="bold" textLength="30.90" lengthAdjust="spacingAndGlyphs" stroke="#000" stroke-width="0.35">1.5</text>
<line x1="669.00" y1="866.80" x2="680.70" y2="866.80" stroke="#000" stroke-width="4.2"/>
<text x="668.10" y="875.50" font-size="24.4" text-anchor="end" font-weight="bold" textLength="30.90" lengthAdjust="spacingAndGlyphs" stroke="#000" stroke-width="0.35">0.5</text>
<line x1="680.70" y1="847.10" x2="922.70" y2="847.10" stroke="#000" stroke-width="4.2"/>
<circle cx="710.60" cy="644.70" r="4.2" fill="#347d09"/>
<circle cx="710.60" cy="714.30" r="4.2" fill="#347d09"/>
<circle cx="710.60" cy="742.40" r="4.2" fill="#347d09"/>
<circle cx="710.60" cy="807.00" r="4.2" fill="#347d09"/>
<circle cx="755.90" cy="837.40" r="4.2" fill="#ee1c0c"/>
<circle cx="749.10" cy="846.80" r="4.2" fill="#ee1c0c"/>
<circle cx="762.80" cy="843.30" r="4.2" fill="#ee1c0c"/>
<circle cx="751.90" cy="854.20" r="4.2" fill="#ee1c0c"/>
<circle cx="759.50" cy="852.30" r="4.2" fill="#ee1c0c"/>
<circle cx="794.20" cy="857.00" r="4.2" fill="#fdd17c"/>
<circle cx="808.50" cy="854.80" r="4.2" fill="#fdd17c"/>
<circle cx="794.00" cy="864.50" r="4.2" fill="#fdd17c"/>
<circle cx="798.90" cy="868.50" r="4.2" fill="#fdd17c"/>
<circle cx="805.60" cy="866.60" r="4.2" fill="#fdd17c"/>
<circle cx="801.80" cy="861.80" r="4.2" fill="#fdd17c"/>
<circle cx="846.50" cy="553.70" r="4.2" fill="#0a32c8"/>
<circle cx="839.90" cy="721.90" r="4.2" fill="#0a32c8"/>
<circle cx="853.60" cy="721.90" r="4.2" fill="#0a32c8"/>
<circle cx="846.50" cy="808.10" r="4.2" fill="#0a32c8"/>
<circle cx="853.60" cy="821.30" r="4.2" fill="#0a32c8"/>
<circle cx="839.90" cy="830.40" r="4.2" fill="#0a32c8"/>
<circle cx="883.70" cy="654.20" r="4.2" fill="#58c0f8"/>
<circle cx="900.80" cy="648.50" r="4.2" fill="#58c0f8"/>
<circle cx="891.80" cy="661.20" r="4.2" fill="#58c0f8"/>
<circle cx="898.90" cy="802.80" r="4.2" fill="#58c0f8"/>
<circle cx="885.60" cy="815.20" r="4.2" fill="#58c0f8"/>
<text x="565.80" y="700.15" font-size="23.2" text-anchor="middle" font-weight="bold" textLength="279.30" lengthAdjust="spacingAndGlyphs" transform="rotate(-90 565.80 700.15)" stroke="#000" stroke-width="0.3">Postprandial plasma PA</text>
<text x="599.40" y="700.15" font-size="23.2" text-anchor="middle" font-weight="bold" textLength="303.10" lengthAdjust="spacingAndGlyphs" transform="rotate(-90 599.40 700.15)" stroke="#000" stroke-width="0.3">response (relative to fast)</text>
<path class="k" d="M3.4 -5.2C2.6 -6.2 1.5 -6.6 0.2 -6.6C-1.8 -6.6 -3.25 -5.4 -3.25 -3.6C-3.25 -1.9 -2.2 -1 0 -0.1C2.35 0.9 3.55 1.8 3.55 3.6C3.55 5.5 2.1 6.6 0 6.6C-1.5 6.6 -2.7 6.1 -3.7 5M0.3 -8.8V-6.4M-0.3 6.4V8.8" stroke-width="1.55" transform="translate(711.05 547.80)"/>
<path class="k" d="M3.4 -5.2C2.6 -6.2 1.5 -6.6 0.2 -6.6C-1.8 -6.6 -3.25 -5.4 -3.25 -3.6C-3.25 -1.9 -2.2 -1 0 -0.1C2.35 0.9 3.55 1.8 3.55 3.6C3.55 5.5 2.1 6.6 0 6.6C-1.5 6.6 -2.7 6.1 -3.7 5M0.3 -8.8V-6.4M-0.3 6.4V8.8" stroke-width="1.55" transform="translate(721.75 547.80)"/>
<path class="k" d="M0 -3.7V3.7M-3.3 -1.9L3.3 1.9M-3.3 1.9L3.3 -1.9" stroke-width="1.5" transform="translate(709.05 579.60)"/>
<path class="k" d="M0 -3.7V3.7M-3.3 -1.9L3.3 1.9M-3.3 1.9L3.3 -1.9" stroke-width="1.5" transform="translate(719.75 579.60)"/>
<path class="k" d="M0 -3.7V3.7M-3.3 -1.9L3.3 1.9M-3.3 1.9L3.3 -1.9" stroke-width="1.5" transform="translate(848.10 509.50)"/>
<path d="M1170.00 780.90V836.00H1200.20V780.90" fill="none" stroke="#0b7511" stroke-width="4.3" stroke-linejoin="round"/>
<line x1="1185.10" y1="836.00" x2="1185.10" y2="840.90" stroke="#0b7511" stroke-width="2.5"/>
<line x1="1177.50" y1="840.90" x2="1192.70" y2="840.90" stroke="#0b7511" stroke-width="2.5" stroke-linecap="round"/>
<path d="M1215.30 780.90V820.80H1245.90V780.90" fill="none" stroke="#ee1c0c" stroke-width="4.3" stroke-linejoin="round"/>
<line x1="1231.00" y1="820.80" x2="1231.00" y2="825.60" stroke="#ee1c0c" stroke-width="2.5"/>
<line x1="1223.90" y1="825.60" x2="1238.10" y2="825.60" stroke="#ee1c0c" stroke-width="2.5" stroke-linecap="round"/>
<path d="M1261.00 780.90V848.00H1291.20V780.90" fill="none" stroke="#fdd17c" stroke-width="4.3" stroke-linejoin="round"/>
<line x1="1276.00" y1="848.00" x2="1276.00" y2="851.30" stroke="#fdd17c" stroke-width="2.5"/>
<line x1="1268.80" y1="851.30" x2="1283.20" y2="851.30" stroke="#fdd17c" stroke-width="2.5" stroke-linecap="round"/>
<path d="M1306.30 780.90V742.90H1336.50V780.90" fill="none" stroke="#0a32c8" stroke-width="4.3" stroke-linejoin="round"/>
<line x1="1321.20" y1="742.90" x2="1321.20" y2="700.50" stroke="#0a32c8" stroke-width="2.5"/>
<line x1="1313.70" y1="700.50" x2="1328.70" y2="700.50" stroke="#0a32c8" stroke-width="2.5" stroke-linecap="round"/>
<path d="M1352.00 780.90V826.50H1382.00V780.90" fill="none" stroke="#58c0f8" stroke-width="4.3" stroke-linejoin="round"/>
<line x1="1368.40" y1="826.50" x2="1368.40" y2="832.90" stroke="#58c0f8" stroke-width="2.5"/>
<line x1="1363.00" y1="832.90" x2="1373.80" y2="832.90" stroke="#58c0f8" stroke-width="2.5" stroke-linecap="round"/>
<line x1="1154.90" y1="507.40" x2="1154.90" y2="888.80" stroke="#000" stroke-width="4.3"/>
<line x1="1143.40" y1="509.50" x2="1155.10" y2="509.50" stroke="#000" stroke-width="4.2"/>
<text x="1142.50" y="518.20" font-size="24.4" text-anchor="end" font-weight="bold" textLength="30.90" lengthAdjust="spacingAndGlyphs" stroke="#000" stroke-width="0.35">3.5</text>
<line x1="1143.40" y1="563.77" x2="1155.10" y2="563.77" stroke="#000" stroke-width="4.2"/>
<text x="1142.50" y="572.47" font-size="24.4" text-anchor="end" font-weight="bold" textLength="30.90" lengthAdjust="spacingAndGlyphs" stroke="#000" stroke-width="0.35">3.0</text>
<line x1="1143.40" y1="618.04" x2="1155.10" y2="618.04" stroke="#000" stroke-width="4.2"/>
<text x="1142.50" y="626.74" font-size="24.4" text-anchor="end" font-weight="bold" textLength="30.90" lengthAdjust="spacingAndGlyphs" stroke="#000" stroke-width="0.35">2.5</text>
<line x1="1143.40" y1="672.31" x2="1155.10" y2="672.31" stroke="#000" stroke-width="4.2"/>
<text x="1142.50" y="681.01" font-size="24.4" text-anchor="end" font-weight="bold" textLength="30.90" lengthAdjust="spacingAndGlyphs" stroke="#000" stroke-width="0.35">2.0</text>
<line x1="1143.40" y1="726.58" x2="1155.10" y2="726.58" stroke="#000" stroke-width="4.2"/>
<text x="1142.50" y="735.28" font-size="24.4" text-anchor="end" font-weight="bold" textLength="30.90" lengthAdjust="spacingAndGlyphs" stroke="#000" stroke-width="0.35">1.5</text>
<line x1="1143.40" y1="780.85" x2="1155.10" y2="780.85" stroke="#000" stroke-width="4.2"/>
<text x="1142.50" y="789.55" font-size="24.4" text-anchor="end" font-weight="bold" textLength="30.90" lengthAdjust="spacingAndGlyphs" stroke="#000" stroke-width="0.35">1.0</text>
<line x1="1143.40" y1="835.12" x2="1155.10" y2="835.12" stroke="#000" stroke-width="4.2"/>
<text x="1142.50" y="843.82" font-size="24.4" text-anchor="end" font-weight="bold" textLength="30.90" lengthAdjust="spacingAndGlyphs" stroke="#000" stroke-width="0.35">0.5</text>
<line x1="1143.40" y1="780.90" x2="1397.40" y2="780.90" stroke="#000" stroke-width="4.2"/>
<circle cx="1185.10" cy="824.10" r="4.2" fill="#0b7511"/>
<circle cx="1176.70" cy="831.70" r="4.2" fill="#0b7511"/>
<circle cx="1193.90" cy="842.40" r="4.2" fill="#0b7511"/>
<circle cx="1185.10" cy="845.20" r="4.2" fill="#0b7511"/>
<circle cx="1223.90" cy="806.60" r="4.2" fill="#ee1c0c"/>
<circle cx="1226.80" cy="818.60" r="4.2" fill="#ee1c0c"/>
<circle cx="1237.40" cy="816.10" r="4.2" fill="#ee1c0c"/>
<circle cx="1231.00" cy="820.90" r="4.2" fill="#ee1c0c"/>
<circle cx="1237.40" cy="825.60" r="4.2" fill="#ee1c0c"/>
<circle cx="1223.90" cy="838.40" r="4.2" fill="#ee1c0c"/>
<circle cx="1285.00" cy="838.40" r="4.2" fill="#fdd17c"/>
<circle cx="1267.50" cy="845.20" r="4.2" fill="#fdd17c"/>
<circle cx="1273.20" cy="847.10" r="4.2" fill="#fdd17c"/>
<circle cx="1279.90" cy="847.50" r="4.2" fill="#fdd17c"/>
<circle cx="1276.10" cy="849.40" r="4.2" fill="#fdd17c"/>
<circle cx="1276.10" cy="863.30" r="4.2" fill="#fdd17c"/>
<circle cx="1321.40" cy="545.90" r="4.2" fill="#0a32c8"/>
<circle cx="1328.10" cy="733.30" r="4.2" fill="#0a32c8"/>
<circle cx="1314.70" cy="741.90" r="4.2" fill="#0a32c8"/>
<circle cx="1321.40" cy="795.70" r="4.2" fill="#0a32c8"/>
<circle cx="1328.10" cy="814.60" r="4.2" fill="#0a32c8"/>
<circle cx="1314.70" cy="826.60" r="4.2" fill="#0a32c8"/>
<circle cx="1360.20" cy="811.00" r="4.2" fill="#58c0f8"/>
<circle cx="1373.60" cy="813.30" r="4.2" fill="#58c0f8"/>
<circle cx="1358.30" cy="830.40" r="4.2" fill="#58c0f8"/>
<circle cx="1366.50" cy="839.50" r="4.2" fill="#58c0f8"/>
<circle cx="1375.10" cy="838.00" r="4.2" fill="#58c0f8"/>
<circle cx="1362.70" cy="833.80" r="4.2" fill="#58c0f8"/>
<text x="1051.20" y="695.75" font-size="23.2" text-anchor="middle" font-weight="bold" textLength="279.30" lengthAdjust="spacingAndGlyphs" transform="rotate(-90 1051.20 695.75)" stroke="#000" stroke-width="0.3">Postprandial plasma BA</text>
<text x="1084.50" y="695.00" font-size="23.2" text-anchor="middle" font-weight="bold" textLength="301.60" lengthAdjust="spacingAndGlyphs" transform="rotate(-90 1084.50 695.00)" stroke="#000" stroke-width="0.3">response (relative to fast)</text>
<path class="k" d="M0 -3.7V3.7M-3.3 -1.9L3.3 1.9M-3.3 1.9L3.3 -1.9" stroke-width="1.5" transform="translate(1321.80 505.10)"/>
<path class="k" d="M3.4 -5.2C2.6 -6.2 1.5 -6.6 0.2 -6.6C-1.8 -6.6 -3.25 -5.4 -3.25 -3.6C-3.25 -1.9 -2.2 -1 0 -0.1C2.35 0.9 3.55 1.8 3.55 3.6C3.55 5.5 2.1 6.6 0 6.6C-1.5 6.6 -2.7 6.1 -3.7 5M0.3 -8.8V-6.4M-0.3 6.4V8.8" stroke-width="1.55" transform="translate(1176.70 866.30)"/>
<path class="k" d="M3.4 -5.2C2.6 -6.2 1.5 -6.6 0.2 -6.6C-1.8 -6.6 -3.25 -5.4 -3.25 -3.6C-3.25 -1.9 -2.2 -1 0 -0.1C2.35 0.9 3.55 1.8 3.55 3.6C3.55 5.5 2.1 6.6 0 6.6C-1.5 6.6 -2.7 6.1 -3.7 5M0.3 -8.8V-6.4M-0.3 6.4V8.8" stroke-width="1.55" transform="translate(1187.40 866.30)"/>
<path class="k" d="M3.4 -5.2C2.6 -6.2 1.5 -6.6 0.2 -6.6C-1.8 -6.6 -3.25 -5.4 -3.25 -3.6C-3.25 -1.9 -2.2 -1 0 -0.1C2.35 0.9 3.55 1.8 3.55 3.6C3.55 5.5 2.1 6.6 0 6.6C-1.5 6.6 -2.7 6.1 -3.7 5M0.3 -8.8V-6.4M-0.3 6.4V8.8" stroke-width="1.55" transform="translate(1198.10 866.30)"/>
<rect x="1528.00" y="517.00" width="31.00" height="19.80" fill="#3b7d09"/>
<text x="1575.30" y="534.30" font-size="20.5" text-anchor="start" textLength="45.60" lengthAdjust="spacingAndGlyphs">Lean</text>
<rect x="1530.40" y="553.30" width="29.50" height="17.60" fill="#f01200"/>
<text x="1575.30" y="568.50" font-size="20.5" text-anchor="start" textLength="72.20" lengthAdjust="spacingAndGlyphs">HFD AL</text>
<rect x="1530.00" y="581.30" width="30.00" height="17.90" fill="#ffd279"/>
<text x="1575.30" y="598.50" font-size="20.5" text-anchor="start" textLength="96.00" lengthAdjust="spacingAndGlyphs">HFD IF1:1</text>
<rect x="1531.00" y="615.40" width="30.00" height="17.20" fill="#0532c8"/>
<text x="1575.30" y="629.30" font-size="20.5" text-anchor="start" textLength="175.80" lengthAdjust="spacingAndGlyphs">Dietary switch AL</text>
<rect x="1531.00" y="641.40" width="29.60" height="17.90" fill="#4fbcfd"/>
<text x="1575.30" y="659.30" font-size="20.5" text-anchor="start" textLength="199.30" lengthAdjust="spacingAndGlyphs">Dietary switch IF1:1</text>
<rect x="297.00" y="975.00" width="281.20" height="558.50" fill="#000"/>
<rect x="303.10" y="980.00" width="93.30" height="67.10" fill="#f01400"/>
<rect x="395.80" y="980.00" width="95.80" height="67.10" fill="#ff4d45"/>
<rect x="491.00" y="980.00" width="81.40" height="67.10" fill="#ff6b63"/>
<rect x="303.10" y="1046.50" width="93.30" height="69.80" fill="#ff4d45"/>
<rect x="395.80" y="1046.50" width="95.80" height="69.80" fill="#f01400"/>
<rect x="491.00" y="1046.50" width="81.40" height="69.80" fill="#ff4a40"/>
<rect x="303.10" y="1115.70" width="93.30" height="70.20" fill="#ff6b63"/>
<rect x="395.80" y="1115.70" width="95.80" height="70.20" fill="#ff4d45"/>
<rect x="491.00" y="1115.70" width="81.40" height="70.20" fill="#f01400"/>
<rect x="303.10" y="1185.30" width="93.30" height="69.60" fill="#b8b4f9"/>
<rect x="395.80" y="1185.30" width="95.80" height="69.60" fill="#b0b4fc"/>
<rect x="491.00" y="1185.30" width="81.40" height="69.60" fill="#9ca0fa"/>
<rect x="303.10" y="1254.30" width="93.30" height="69.40" fill="#5e78ee"/>
<rect x="395.80" y="1254.30" width="95.80" height="69.40" fill="#8a8cf7"/>
<rect x="491.00" y="1254.30" width="81.40" height="69.40" fill="#a8a8fa"/>
<rect x="303.10" y="1323.10" width="93.30" height="70.80" fill="#7277ef"/>
<rect x="395.80" y="1323.10" width="95.80" height="70.80" fill="#a5a6fa"/>
<rect x="491.00" y="1323.10" width="81.40" height="70.80" fill="#b4b2fc"/>
<rect x="303.10" y="1393.30" width="93.30" height="69.10" fill="#4f62e6"/>
<rect x="395.80" y="1393.30" width="95.80" height="69.10" fill="#8c92f7"/>
<rect x="491.00" y="1393.30" width="81.40" height="69.10" fill="#a8acfb"/>
<rect x="303.10" y="1461.80" width="93.30" height="67.00" fill="#8587f5"/>
<rect x="395.80" y="1461.80" width="95.80" height="67.00" fill="#b7b4f8"/>
<rect x="491.00" y="1461.80" width="81.40" height="67.00" fill="#a8a9fa"/>
<path d="M297 975H578.2V1533.5H297Z M303.4 980.3V1528.5H572.1V980.3Z" fill="#000" fill-rule="evenodd"/>
<path class="k" d="M0 -7.5V7.5M-7.8 -4.45L7.8 4.45M-7.8 4.45L7.8 -4.45" stroke-width="3.35" transform="translate(414.00 1016.70)"/>
<path class="k" d="M0 -7.5V7.5M-7.8 -4.45L7.8 4.45M-7.8 4.45L7.8 -4.45" stroke-width="3.35" transform="translate(438.30 1016.70)"/>
<path class="k" d="M0 -7.5V7.5M-7.8 -4.45L7.8 4.45M-7.8 4.45L7.8 -4.45" stroke-width="3.35" transform="translate(462.90 1016.70)"/>
<path class="k" d="M0 -7.5V7.5M-7.8 -4.45L7.8 4.45M-7.8 4.45L7.8 -4.45" stroke-width="3.35" transform="translate(506.10 1016.70)"/>
<path class="k" d="M0 -7.5V7.5M-7.8 -4.45L7.8 4.45M-7.8 4.45L7.8 -4.45" stroke-width="3.35" transform="translate(530.70 1016.70)"/>
<path class="k" d="M0 -7.5V7.5M-7.8 -4.45L7.8 4.45M-7.8 4.45L7.8 -4.45" stroke-width="3.35" transform="translate(555.70 1016.70)"/>
<path class="k" d="M0 -7.5V7.5M-7.8 -4.45L7.8 4.45M-7.8 4.45L7.8 -4.45" stroke-width="3.35" transform="translate(321.20 1079.20)"/>
<path class="k" d="M0 -7.5V7.5M-7.8 -4.45L7.8 4.45M-7.8 4.45L7.8 -4.45" stroke-width="3.35" transform="translate(345.50 1079.20)"/>
<path class="k" d="M0 -7.5V7.5M-7.8 -4.45L7.8 4.45M-7.8 4.45L7.8 -4.45" stroke-width="3.35" transform="translate(370.50 1079.20)"/>
<path class="k" d="M0 -7.5V7.5M-7.8 -4.45L7.8 4.45M-7.8 4.45L7.8 -4.45" stroke-width="3.35" transform="translate(510.40 1082.40)"/>
<path class="k" d="M0 -7.5V7.5M-7.8 -4.45L7.8 4.45M-7.8 4.45L7.8 -4.45" stroke-width="3.35" transform="translate(535.40 1082.40)"/>
<path class="k" d="M0 -7.5V7.5M-7.8 -4.45L7.8 4.45M-7.8 4.45L7.8 -4.45" stroke-width="3.35" transform="translate(559.70 1082.40)"/>
<path class="k" d="M0 -7.5V7.5M-7.8 -4.45L7.8 4.45M-7.8 4.45L7.8 -4.45" stroke-width="3.35" transform="translate(322.30 1149.90)"/>
<path class="k" d="M0 -7.5V7.5M-7.8 -4.45L7.8 4.45M-7.8 4.45L7.8 -4.45" stroke-width="3.35" transform="translate(346.90 1149.90)"/>
<path class="k" d="M0 -7.5V7.5M-7.8 -4.45L7.8 4.45M-7.8 4.45L7.8 -4.45" stroke-width="3.35" transform="translate(371.60 1149.90)"/>
<path class="k" d="M0 -7.5V7.5M-7.8 -4.45L7.8 4.45M-7.8 4.45L7.8 -4.45" stroke-width="3.35" transform="translate(414.00 1149.90)"/>
<path class="k" d="M0 -7.5V7.5M-7.8 -4.45L7.8 4.45M-7.8 4.45L7.8 -4.45" stroke-width="3.35" transform="translate(439.00 1149.90)"/>
<path class="k" d="M0 -7.5V7.5M-7.8 -4.45L7.8 4.45M-7.8 4.45L7.8 -4.45" stroke-width="3.35" transform="translate(463.30 1149.90)"/>
<path class="k" d="M0 -7.5V7.5M-7.8 -4.45L7.8 4.45M-7.8 4.45L7.8 -4.45" stroke-width="3.35" transform="translate(340.90 1221.30)"/>
<path class="k" d="M0 -7.5V7.5M-7.8 -4.45L7.8 4.45M-7.8 4.45L7.8 -4.45" stroke-width="3.35" transform="translate(444.40 1221.30)"/>
<path class="k" d="M0 -7.5V7.5M-7.8 -4.45L7.8 4.45M-7.8 4.45L7.8 -4.45" stroke-width="3.35" transform="translate(522.20 1218.40)"/>
<path class="k" d="M0 -7.5V7.5M-7.8 -4.45L7.8 4.45M-7.8 4.45L7.8 -4.45" stroke-width="3.35" transform="translate(546.80 1218.40)"/>
<path class="k" d="M0 -7.5V7.5M-7.8 -4.45L7.8 4.45M-7.8 4.45L7.8 -4.45" stroke-width="3.35" transform="translate(320.50 1286.40)"/>
<path class="k" d="M0 -7.5V7.5M-7.8 -4.45L7.8 4.45M-7.8 4.45L7.8 -4.45" stroke-width="3.35" transform="translate(345.50 1286.40)"/>
<path class="k" d="M0 -7.5V7.5M-7.8 -4.45L7.8 4.45M-7.8 4.45L7.8 -4.45" stroke-width="3.35" transform="translate(370.50 1286.40)"/>
<path class="k" d="M0 -7.5V7.5M-7.8 -4.45L7.8 4.45M-7.8 4.45L7.8 -4.45" stroke-width="3.35" transform="translate(431.90 1286.40)"/>
<path class="k" d="M0 -7.5V7.5M-7.8 -4.45L7.8 4.45M-7.8 4.45L7.8 -4.45" stroke-width="3.35" transform="translate(456.50 1286.40)"/>
<path class="k" d="M0 -7.5V7.5M-7.8 -4.45L7.8 4.45M-7.8 4.45L7.8 -4.45" stroke-width="3.35" transform="translate(529.30 1288.90)"/>
<path class="k" d="M0 -7.5V7.5M-7.8 -4.45L7.8 4.45M-7.8 4.45L7.8 -4.45" stroke-width="3.35" transform="translate(323.00 1362.80)"/>
<path class="k" d="M0 -7.5V7.5M-7.8 -4.45L7.8 4.45M-7.8 4.45L7.8 -4.45" stroke-width="3.35" transform="translate(347.30 1362.80)"/>
<path class="k" d="M0 -7.5V7.5M-7.8 -4.45L7.8 4.45M-7.8 4.45L7.8 -4.45" stroke-width="3.35" transform="translate(371.90 1362.80)"/>
<path class="k" d="M0 -7.5V7.5M-7.8 -4.45L7.8 4.45M-7.8 4.45L7.8 -4.45" stroke-width="3.35" transform="translate(429.40 1359.60)"/>
<path class="k" d="M0 -7.5V7.5M-7.8 -4.45L7.8 4.45M-7.8 4.45L7.8 -4.45" stroke-width="3.35" transform="translate(453.30 1359.60)"/>
<path class="k" d="M0 -7.5V7.5M-7.8 -4.45L7.8 4.45M-7.8 4.45L7.8 -4.45" stroke-width="3.35" transform="translate(529.30 1357.10)"/>
<path class="k" d="M0 -7.5V7.5M-7.8 -4.45L7.8 4.45M-7.8 4.45L7.8 -4.45" stroke-width="3.35" transform="translate(320.50 1427.70)"/>
<path class="k" d="M0 -7.5V7.5M-7.8 -4.45L7.8 4.45M-7.8 4.45L7.8 -4.45" stroke-width="3.35" transform="translate(345.10 1427.70)"/>
<path class="k" d="M0 -7.5V7.5M-7.8 -4.45L7.8 4.45M-7.8 4.45L7.8 -4.45" stroke-width="3.35" transform="translate(369.80 1427.70)"/>
<path class="k" d="M0 -7.5V7.5M-7.8 -4.45L7.8 4.45M-7.8 4.45L7.8 -4.45" stroke-width="3.35" transform="translate(430.50 1427.70)"/>
<path class="k" d="M0 -7.5V7.5M-7.8 -4.45L7.8 4.45M-7.8 4.45L7.8 -4.45" stroke-width="3.35" transform="translate(455.10 1427.70)"/>
<path class="k" d="M0 -7.5V7.5M-7.8 -4.45L7.8 4.45M-7.8 4.45L7.8 -4.45" stroke-width="3.35" transform="translate(529.00 1427.70)"/>
<path class="k" d="M0 -7.5V7.5M-7.8 -4.45L7.8 4.45M-7.8 4.45L7.8 -4.45" stroke-width="3.35" transform="translate(333.40 1496.30)"/>
<path class="k" d="M0 -7.5V7.5M-7.8 -4.45L7.8 4.45M-7.8 4.45L7.8 -4.45" stroke-width="3.35" transform="translate(358.00 1496.30)"/>
<path class="k" d="M0 -7.5V7.5M-7.8 -4.45L7.8 4.45M-7.8 4.45L7.8 -4.45" stroke-width="3.35" transform="translate(440.80 1496.30)"/>
<path class="k" d="M0 -7.5V7.5M-7.8 -4.45L7.8 4.45M-7.8 4.45L7.8 -4.45" stroke-width="3.35" transform="translate(523.20 1496.30)"/>
<path class="k" d="M0 -7.5V7.5M-7.8 -4.45L7.8 4.45M-7.8 4.45L7.8 -4.45" stroke-width="3.35" transform="translate(547.90 1496.30)"/>
<text x="271.00" y="1026.20" font-size="24.5" text-anchor="end" font-weight="bold" textLength="34.30" lengthAdjust="spacingAndGlyphs" stroke="#000" stroke-width="0.35">AA</text>
<text x="271.00" y="1093.40" font-size="24.5" text-anchor="end" font-weight="bold" textLength="31.70" lengthAdjust="spacingAndGlyphs" stroke="#000" stroke-width="0.35">PA</text>
<text x="271.00" y="1160.40" font-size="24.5" text-anchor="end" font-weight="bold" textLength="32.70" lengthAdjust="spacingAndGlyphs" stroke="#000" stroke-width="0.35">BA</text>
<text x="271.00" y="1231.00" font-size="24.5" text-anchor="end" font-weight="bold" textLength="40.40" lengthAdjust="spacingAndGlyphs" stroke="#000" stroke-width="0.35">BW</text>
<text x="271.00" y="1297.60" font-size="24.5" text-anchor="end" font-weight="bold" textLength="92.50" lengthAdjust="spacingAndGlyphs" stroke="#000" stroke-width="0.35">Glucose</text>
<text x="271.00" y="1365.70" font-size="24.5" text-anchor="end" font-weight="bold" textLength="77.90" lengthAdjust="spacingAndGlyphs" stroke="#000" stroke-width="0.35">Insulin</text>
<text x="271.00" y="1436.10" font-size="24.5" text-anchor="end" font-weight="bold" textLength="103.90" lengthAdjust="spacingAndGlyphs" stroke="#000" stroke-width="0.35">AUC GTT</text>
<text x="271.00" y="1503.90" font-size="24.5" text-anchor="end" font-weight="bold" textLength="93.20" lengthAdjust="spacingAndGlyphs" stroke="#000" stroke-width="0.35">AUC ITT</text>
<line x1="205.20" y1="989.30" x2="205.20" y2="1178.40" stroke="#000" stroke-width="1.6"/>
<text x="87.40" y="1046.40" font-size="29.8" text-anchor="middle" font-weight="bold" textLength="66.30" lengthAdjust="spacingAndGlyphs" stroke="#000" stroke-width="0.5">Fecal</text>
<text x="87.40" y="1083.80" font-size="29.8" text-anchor="middle" font-weight="bold" textLength="167.70" lengthAdjust="spacingAndGlyphs" stroke="#000" stroke-width="0.5">Postprandial</text>
<text x="87.40" y="1123.80" font-size="29.8" text-anchor="middle" font-weight="bold" textLength="120.00" lengthAdjust="spacingAndGlyphs" stroke="#000" stroke-width="0.5">response</text>
<rect x="673.20" y="1086.80" width="45.80" height="384.10" fill="#000"/>
<rect x="676.20" y="1089.80" width="39.80" height="378.10" fill="url(#gcd)"/>
<line x1="675.20" y1="1183.50" x2="682.20" y2="1183.50" stroke="#000" stroke-width="2"/>
<line x1="710.00" y1="1183.50" x2="717.00" y2="1183.50" stroke="#000" stroke-width="2"/>
<line x1="675.20" y1="1278.50" x2="682.20" y2="1278.50" stroke="#000" stroke-width="2"/>
<line x1="710.00" y1="1278.50" x2="717.00" y2="1278.50" stroke="#000" stroke-width="2"/>
<line x1="675.20" y1="1374.20" x2="682.20" y2="1374.20" stroke="#000" stroke-width="2"/>
<line x1="710.00" y1="1374.20" x2="717.00" y2="1374.20" stroke="#000" stroke-width="2"/>
<text x="735.70" y="1094.70" font-size="18" text-anchor="start" textLength="34.80" lengthAdjust="spacingAndGlyphs">1.0</text>
<text x="733.70" y="1190.00" font-size="18" text-anchor="start" textLength="37.20" lengthAdjust="spacingAndGlyphs">0.5</text>
<text x="733.70" y="1285.00" font-size="18" text-anchor="start" textLength="13.70" lengthAdjust="spacingAndGlyphs">0</text>
<text x="733.30" y="1380.70" font-size="18" text-anchor="start" textLength="46.30" lengthAdjust="spacingAndGlyphs">-0.5</text>
<text x="733.30" y="1476.00" font-size="18" text-anchor="start" textLength="45.70" lengthAdjust="spacingAndGlyphs">-1.0</text>
<text x="343.00" y="1574.20" font-size="24.5" text-anchor="middle" font-weight="bold" textLength="35.00" lengthAdjust="spacingAndGlyphs" stroke="#000" stroke-width="0.35">AA</text>
<text x="433.20" y="1574.20" font-size="24.5" text-anchor="middle" font-weight="bold" textLength="31.40" lengthAdjust="spacingAndGlyphs" stroke="#000" stroke-width="0.35">PA</text>
<text x="534.15" y="1574.20" font-size="24.5" text-anchor="middle" font-weight="bold" textLength="32.10" lengthAdjust="spacingAndGlyphs" stroke="#000" stroke-width="0.35">BA</text>
<line x1="312.00" y1="1594.40" x2="565.80" y2="1594.40" stroke="#000" stroke-width="1.6"/>
<text x="438.50" y="1640.30" font-size="29.8" text-anchor="middle" font-weight="bold" textLength="242.30" lengthAdjust="spacingAndGlyphs" stroke="#000" stroke-width="0.5">Fecal Postprandial</text>
<text x="439.10" y="1677.40" font-size="29.8" text-anchor="middle" font-weight="bold" textLength="120.00" lengthAdjust="spacingAndGlyphs" stroke="#000" stroke-width="0.5">response</text>
<rect x="1204.60" y="980.30" width="281.50" height="554.40" fill="#000"/>
<rect x="1210.60" y="985.40" width="92.40" height="66.60" fill="#f01400"/>
<rect x="1302.40" y="985.40" width="94.90" height="66.60" fill="#ffaaa5"/>
<rect x="1396.70" y="985.40" width="83.00" height="66.60" fill="#ff9e96"/>
<rect x="1210.60" y="1051.40" width="92.40" height="69.90" fill="#ffa9a4"/>
<rect x="1302.40" y="1051.40" width="94.90" height="69.90" fill="#f01400"/>
<rect x="1396.70" y="1051.40" width="83.00" height="69.90" fill="#ff7367"/>
<rect x="1210.60" y="1120.70" width="92.40" height="68.70" fill="#ff9c97"/>
<rect x="1302.40" y="1120.70" width="94.90" height="68.70" fill="#ff7368"/>
<rect x="1396.70" y="1120.70" width="83.00" height="68.70" fill="#f01400"/>
<rect x="1210.60" y="1188.80" width="92.40" height="69.60" fill="#e4e0fb"/>
<rect x="1302.40" y="1188.80" width="94.90" height="69.60" fill="#d2d0fb"/>
<rect x="1396.70" y="1188.80" width="83.00" height="69.60" fill="#ffeae6"/>
<rect x="1210.60" y="1257.80" width="92.40" height="68.90" fill="#a7a9fb"/>
<rect x="1302.40" y="1257.80" width="94.90" height="68.90" fill="#8a8ef8"/>
<rect x="1396.70" y="1257.80" width="83.00" height="68.90" fill="#d0cffb"/>
<rect x="1210.60" y="1326.10" width="92.40" height="69.40" fill="#a4a8fb"/>
<rect x="1302.40" y="1326.10" width="94.90" height="69.40" fill="#c2c0fc"/>
<rect x="1396.70" y="1326.10" width="83.00" height="69.40" fill="#f7f5fe"/>
<rect x="1210.60" y="1394.90" width="92.40" height="69.20" fill="#a8aafb"/>
<rect x="1302.40" y="1394.90" width="94.90" height="69.20" fill="#6271ed"/>
<rect x="1396.70" y="1394.90" width="83.00" height="69.20" fill="#cac8fb"/>
<rect x="1210.60" y="1463.50" width="92.40" height="66.40" fill="#cbcbfc"/>
<rect x="1302.40" y="1463.50" width="94.90" height="66.40" fill="#8e93f8"/>
<rect x="1396.70" y="1463.50" width="83.00" height="66.40" fill="#efecfd"/>
<path d="M1204.6 980.3H1486.1V1534.7H1204.6Z M1210.9 985.7V1529.6H1479.4V985.7Z" fill="#000" fill-rule="evenodd"/>
<path class="k" d="M0 -7.5V7.5M-7.8 -4.45L7.8 4.45M-7.8 4.45L7.8 -4.45" stroke-width="3.35" transform="translate(1337.20 1016.00)"/>
<path class="k" d="M0 -7.5V7.5M-7.8 -4.45L7.8 4.45M-7.8 4.45L7.8 -4.45" stroke-width="3.35" transform="translate(1361.50 1016.00)"/>
<path class="k" d="M0 -7.5V7.5M-7.8 -4.45L7.8 4.45M-7.8 4.45L7.8 -4.45" stroke-width="3.35" transform="translate(1427.50 1016.00)"/>
<path class="k" d="M0 -7.5V7.5M-7.8 -4.45L7.8 4.45M-7.8 4.45L7.8 -4.45" stroke-width="3.35" transform="translate(1239.10 1086.00)"/>
<path class="k" d="M0 -7.5V7.5M-7.8 -4.45L7.8 4.45M-7.8 4.45L7.8 -4.45" stroke-width="3.35" transform="translate(1264.00 1086.00)"/>
<path class="k" d="M0 -7.5V7.5M-7.8 -4.45L7.8 4.45M-7.8 4.45L7.8 -4.45" stroke-width="3.35" transform="translate(1417.50 1083.50)"/>
<path class="k" d="M0 -7.5V7.5M-7.8 -4.45L7.8 4.45M-7.8 4.45L7.8 -4.45" stroke-width="3.35" transform="translate(1441.80 1083.50)"/>
<path class="k" d="M0 -7.5V7.5M-7.8 -4.45L7.8 4.45M-7.8 4.45L7.8 -4.45" stroke-width="3.35" transform="translate(1466.40 1083.50)"/>
<path class="k" d="M0 -7.5V7.5M-7.8 -4.45L7.8 4.45M-7.8 4.45L7.8 -4.45" stroke-width="3.35" transform="translate(1249.10 1156.00)"/>
<path class="k" d="M0 -7.5V7.5M-7.8 -4.45L7.8 4.45M-7.8 4.45L7.8 -4.45" stroke-width="3.35" transform="translate(1273.70 1156.00)"/>
<path class="k" d="M0 -7.5V7.5M-7.8 -4.45L7.8 4.45M-7.8 4.45L7.8 -4.45" stroke-width="3.35" transform="translate(1328.30 1153.80)"/>
<path class="k" d="M0 -7.5V7.5M-7.8 -4.45L7.8 4.45M-7.8 4.45L7.8 -4.45" stroke-width="3.35" transform="translate(1353.30 1153.80)"/>
<path class="k" d="M0 -7.5V7.5M-7.8 -4.45L7.8 4.45M-7.8 4.45L7.8 -4.45" stroke-width="3.35" transform="translate(1377.60 1153.80)"/>
<path class="k" d="M0 -7.5V7.5M-7.8 -4.45L7.8 4.45M-7.8 4.45L7.8 -4.45" stroke-width="3.35" transform="translate(1253.40 1296.40)"/>
<path class="k" d="M0 -7.5V7.5M-7.8 -4.45L7.8 4.45M-7.8 4.45L7.8 -4.45" stroke-width="3.35" transform="translate(1324.70 1296.40)"/>
<path class="k" d="M0 -7.5V7.5M-7.8 -4.45L7.8 4.45M-7.8 4.45L7.8 -4.45" stroke-width="3.35" transform="translate(1349.70 1296.40)"/>
<path class="k" d="M0 -7.5V7.5M-7.8 -4.45L7.8 4.45M-7.8 4.45L7.8 -4.45" stroke-width="3.35" transform="translate(1374.70 1296.40)"/>
<path class="k" d="M0 -7.5V7.5M-7.8 -4.45L7.8 4.45M-7.8 4.45L7.8 -4.45" stroke-width="3.35" transform="translate(1259.40 1364.20)"/>
<path class="k" d="M0 -7.5V7.5M-7.8 -4.45L7.8 4.45M-7.8 4.45L7.8 -4.45" stroke-width="3.35" transform="translate(1255.90 1432.00)"/>
<path class="k" d="M0 -7.5V7.5M-7.8 -4.45L7.8 4.45M-7.8 4.45L7.8 -4.45" stroke-width="3.35" transform="translate(1324.70 1432.00)"/>
<path class="k" d="M0 -7.5V7.5M-7.8 -4.45L7.8 4.45M-7.8 4.45L7.8 -4.45" stroke-width="3.35" transform="translate(1349.70 1432.00)"/>
<path class="k" d="M0 -7.5V7.5M-7.8 -4.45L7.8 4.45M-7.8 4.45L7.8 -4.45" stroke-width="3.35" transform="translate(1374.70 1432.00)"/>
<path class="k" d="M0 -7.5V7.5M-7.8 -4.45L7.8 4.45M-7.8 4.45L7.8 -4.45" stroke-width="3.35" transform="translate(1336.50 1494.10)"/>
<path class="k" d="M0 -7.5V7.5M-7.8 -4.45L7.8 4.45M-7.8 4.45L7.8 -4.45" stroke-width="3.35" transform="translate(1361.10 1494.10)"/>
<text x="1176.00" y="1026.20" font-size="24.5" text-anchor="end" font-weight="bold" textLength="34.00" lengthAdjust="spacingAndGlyphs" stroke="#000" stroke-width="0.35">AA</text>
<text x="1176.00" y="1093.70" font-size="24.5" text-anchor="end" font-weight="bold" textLength="31.40" lengthAdjust="spacingAndGlyphs" stroke="#000" stroke-width="0.35">PA</text>
<text x="1176.00" y="1161.10" font-size="24.5" text-anchor="end" font-weight="bold" textLength="32.40" lengthAdjust="spacingAndGlyphs" stroke="#000" stroke-width="0.35">BA</text>
<text x="1176.00" y="1231.00" font-size="24.5" text-anchor="end" font-weight="bold" textLength="40.10" lengthAdjust="spacingAndGlyphs" stroke="#000" stroke-width="0.35">BW</text>
<text x="1176.00" y="1298.70" font-size="24.5" text-anchor="end" font-weight="bold" textLength="92.90" lengthAdjust="spacingAndGlyphs" stroke="#000" stroke-width="0.35">Glucose</text>
<text x="1176.00" y="1365.80" font-size="24.5" text-anchor="end" font-weight="bold" textLength="77.50" lengthAdjust="spacingAndGlyphs" stroke="#000" stroke-width="0.35">Insulin</text>
<text x="1176.00" y="1436.10" font-size="24.5" text-anchor="end" font-weight="bold" textLength="103.60" lengthAdjust="spacingAndGlyphs" stroke="#000" stroke-width="0.35">AUC GTT</text>
<text x="1176.00" y="1503.90" font-size="24.5" text-anchor="end" font-weight="bold" textLength="92.90" lengthAdjust="spacingAndGlyphs" stroke="#000" stroke-width="0.35">AUC ITT</text>
<line x1="1113.80" y1="985.70" x2="1113.80" y2="1174.90" stroke="#000" stroke-width="1.6"/>
<text x="1014.50" y="1041.00" font-size="29.8" text-anchor="middle" font-weight="bold" textLength="93.50" lengthAdjust="spacingAndGlyphs" stroke="#000" stroke-width="0.5">Plasma</text>
<text x="1014.20" y="1077.80" font-size="29.8" text-anchor="middle" font-weight="bold" textLength="167.80" lengthAdjust="spacingAndGlyphs" stroke="#000" stroke-width="0.5">Postprandial</text>
<text x="1014.60" y="1117.80" font-size="29.8" text-anchor="middle" font-weight="bold" textLength="120.60" lengthAdjust="spacingAndGlyphs" stroke="#000" stroke-width="0.5">response</text>
<rect x="1552.20" y="1102.20" width="45.90" height="384.10" fill="#000"/>
<rect x="1555.20" y="1105.20" width="39.90" height="378.10" fill="url(#gcd)"/>
<line x1="1554.20" y1="1198.50" x2="1561.20" y2="1198.50" stroke="#000" stroke-width="2"/>
<line x1="1589.10" y1="1198.50" x2="1596.10" y2="1198.50" stroke="#000" stroke-width="2"/>
<line x1="1554.20" y1="1294.20" x2="1561.20" y2="1294.20" stroke="#000" stroke-width="2"/>
<line x1="1589.10" y1="1294.20" x2="1596.10" y2="1294.20" stroke="#000" stroke-width="2"/>
<line x1="1554.20" y1="1389.60" x2="1561.20" y2="1389.60" stroke="#000" stroke-width="2"/>
<line x1="1589.10" y1="1389.60" x2="1596.10" y2="1389.60" stroke="#000" stroke-width="2"/>
<text x="1615.10" y="1109.70" font-size="18" text-anchor="start" textLength="34.40" lengthAdjust="spacingAndGlyphs">1.0</text>
<text x="1613.00" y="1205.00" font-size="18" text-anchor="start" textLength="36.90" lengthAdjust="spacingAndGlyphs">0.5</text>
<text x="1613.00" y="1300.70" font-size="18" text-anchor="start" textLength="13.70" lengthAdjust="spacingAndGlyphs">0</text>
<text x="1612.60" y="1396.10" font-size="18" text-anchor="start" textLength="46.40" lengthAdjust="spacingAndGlyphs">-0.5</text>
<text x="1612.60" y="1491.40" font-size="18" text-anchor="start" textLength="46.40" lengthAdjust="spacingAndGlyphs">-1.0</text>
<text x="1246.45" y="1569.60" font-size="24.5" text-anchor="middle" font-weight="bold" textLength="34.10" lengthAdjust="spacingAndGlyphs" stroke="#000" stroke-width="0.35">AA</text>
<text x="1336.55" y="1569.60" font-size="24.5" text-anchor="middle" font-weight="bold" textLength="31.10" lengthAdjust="spacingAndGlyphs" stroke="#000" stroke-width="0.35">PA</text>
<text x="1437.70" y="1569.60" font-size="24.5" text-anchor="middle" font-weight="bold" textLength="32.00" lengthAdjust="spacingAndGlyphs" stroke="#000" stroke-width="0.35">BA</text>
<line x1="1214.80" y1="1594.80" x2="1468.80" y2="1594.80" stroke="#000" stroke-width="1.6"/>
<text x="1343.60" y="1643.00" font-size="29.8" text-anchor="middle" font-weight="bold" textLength="270.60" lengthAdjust="spacingAndGlyphs" stroke="#000" stroke-width="0.5">Plasma Postprandial</text>
<text x="1343.80" y="1680.20" font-size="29.8" text-anchor="middle" font-weight="bold" textLength="120.10" lengthAdjust="spacingAndGlyphs" stroke="#000" stroke-width="0.5">response</text>
<rect x="459.80" y="1785.20" width="54.60" height="43.95" fill="#fdc0a5"/>
<rect x="514.00" y="1785.20" width="54.60" height="43.95" fill="#fde1d6"/>
<rect x="568.20" y="1785.20" width="54.60" height="43.95" fill="#fcb193"/>
<rect x="622.40" y="1785.20" width="54.60" height="43.95" fill="#fdc4ab"/>
<rect x="676.60" y="1785.20" width="54.60" height="43.95" fill="#bad2e6"/>
<rect x="730.80" y="1785.20" width="54.60" height="43.95" fill="#c0d6e6"/>
<rect x="785.00" y="1785.20" width="54.60" height="43.95" fill="#d6e3ef"/>
<rect x="839.20" y="1785.20" width="54.60" height="43.95" fill="#b9d3e6"/>
<rect x="893.40" y="1785.20" width="54.60" height="43.95" fill="#7fb1d6"/>
<rect x="459.80" y="1828.75" width="54.60" height="43.95" fill="#ea7050"/>
<rect x="514.00" y="1828.75" width="54.60" height="43.95" fill="#fdc3a8"/>
<rect x="568.20" y="1828.75" width="54.60" height="43.95" fill="#fdcab2"/>
<rect x="622.40" y="1828.75" width="54.60" height="43.95" fill="#fdd0bb"/>
<rect x="676.60" y="1828.75" width="54.60" height="43.95" fill="#fde4db"/>
<rect x="730.80" y="1828.75" width="54.60" height="43.95" fill="#fdddd1"/>
<rect x="785.00" y="1828.75" width="54.60" height="43.95" fill="#fddfd3"/>
<rect x="839.20" y="1828.75" width="54.60" height="43.95" fill="#afcfe5"/>
<rect x="893.40" y="1828.75" width="54.60" height="43.95" fill="#a0c5e0"/>
<rect x="459.80" y="1872.30" width="54.60" height="43.95" fill="#fdbfa3"/>
<rect x="514.00" y="1872.30" width="54.60" height="43.95" fill="#fddfd4"/>
<rect x="568.20" y="1872.30" width="54.60" height="43.95" fill="#fde1d7"/>
<rect x="622.40" y="1872.30" width="54.60" height="43.95" fill="#fde1d7"/>
<rect x="676.60" y="1872.30" width="54.60" height="43.95" fill="#d3dfed"/>
<rect x="730.80" y="1872.30" width="54.60" height="43.95" fill="#dde6ef"/>
<rect x="785.00" y="1872.30" width="54.60" height="43.95" fill="#c5d9ea"/>
<rect x="839.20" y="1872.30" width="54.60" height="43.95" fill="#b7d1e6"/>
<rect x="893.40" y="1872.30" width="54.60" height="43.95" fill="#adcbe3"/>
<rect x="459.80" y="1915.85" width="54.60" height="43.95" fill="#eb7556"/>
<rect x="514.00" y="1915.85" width="54.60" height="43.95" fill="#fdddd0"/>
<rect x="568.20" y="1915.85" width="54.60" height="43.95" fill="#fdd0bb"/>
<rect x="622.40" y="1915.85" width="54.60" height="43.95" fill="#fdc8b0"/>
<rect x="676.60" y="1915.85" width="54.60" height="43.95" fill="#fdd9ca"/>
<rect x="730.80" y="1915.85" width="54.60" height="43.95" fill="#fde2d8"/>
<rect x="785.00" y="1915.85" width="54.60" height="43.95" fill="#fde6de"/>
<rect x="839.20" y="1915.85" width="54.60" height="43.95" fill="#abcae2"/>
<rect x="893.40" y="1915.85" width="54.60" height="43.95" fill="#96bedc"/>
<rect x="459.80" y="1959.40" width="54.60" height="43.95" fill="#fb8f6f"/>
<rect x="514.00" y="1959.40" width="54.60" height="43.95" fill="#fdd8c9"/>
<rect x="568.20" y="1959.40" width="54.60" height="43.95" fill="#fdd2be"/>
<rect x="622.40" y="1959.40" width="54.60" height="43.95" fill="#fddad0"/>
<rect x="676.60" y="1959.40" width="54.60" height="43.95" fill="#fdd3c0"/>
<rect x="730.80" y="1959.40" width="54.60" height="43.95" fill="#fde0d6"/>
<rect x="785.00" y="1959.40" width="54.60" height="43.95" fill="#f9ede9"/>
<rect x="839.20" y="1959.40" width="54.60" height="43.95" fill="#a3c5e0"/>
<rect x="893.40" y="1959.40" width="54.60" height="43.95" fill="#bdd4e9"/>
<rect x="459.80" y="2002.95" width="54.60" height="43.95" fill="#fca889"/>
<rect x="514.00" y="2002.95" width="54.60" height="43.95" fill="#fddcce"/>
<rect x="568.20" y="2002.95" width="54.60" height="43.95" fill="#fdd3c0"/>
<rect x="622.40" y="2002.95" width="54.60" height="43.95" fill="#fde2da"/>
<rect x="676.60" y="2002.95" width="54.60" height="43.95" fill="#fdc2a8"/>
<rect x="730.80" y="2002.95" width="54.60" height="43.95" fill="#fdc2a8"/>
<rect x="785.00" y="2002.95" width="54.60" height="43.95" fill="#fdddd1"/>
<rect x="839.20" y="2002.95" width="54.60" height="43.95" fill="#e0e9f0"/>
<rect x="893.40" y="2002.95" width="54.60" height="43.95" fill="#d3e1ec"/>
<path class="k" d="M0 0V-6.7M0 0L-6.2 -2.3M0 0L6.2 -2.3M0 0L-3.9 6.3M0 0L3.9 6.3" stroke-width="1.7" transform="translate(487.30 1807.08)"/>
<path class="k" d="M0 0V-6.7M0 0L-6.2 -2.3M0 0L6.2 -2.3M0 0L-3.9 6.3M0 0L3.9 6.3" stroke-width="1.7" transform="translate(595.70 1807.08)"/>
<path class="k" d="M0 0V-6.7M0 0L-6.2 -2.3M0 0L6.2 -2.3M0 0L-3.9 6.3M0 0L3.9 6.3" stroke-width="1.7" transform="translate(920.90 1807.08)"/>
<path class="k" d="M0 0V-6.7M0 0L-6.2 -2.3M0 0L6.2 -2.3M0 0L-3.9 6.3M0 0L3.9 6.3" stroke-width="1.7" transform="translate(487.30 1850.63)"/>
<path class="k" d="M0 0V-6.7M0 0L-6.2 -2.3M0 0L6.2 -2.3M0 0L-3.9 6.3M0 0L3.9 6.3" stroke-width="1.7" transform="translate(920.90 1850.63)"/>
<path class="k" d="M0 0V-6.7M0 0L-6.2 -2.3M0 0L6.2 -2.3M0 0L-3.9 6.3M0 0L3.9 6.3" stroke-width="1.7" transform="translate(487.30 1894.18)"/>
<path class="k" d="M0 0V-6.7M0 0L-6.2 -2.3M0 0L6.2 -2.3M0 0L-3.9 6.3M0 0L3.9 6.3" stroke-width="1.7" transform="translate(487.30 1937.73)"/>
<path class="k" d="M0 0V-6.7M0 0L-6.2 -2.3M0 0L6.2 -2.3M0 0L-3.9 6.3M0 0L3.9 6.3" stroke-width="1.7" transform="translate(866.70 1937.73)"/>
<path class="k" d="M0 0V-6.7M0 0L-6.2 -2.3M0 0L6.2 -2.3M0 0L-3.9 6.3M0 0L3.9 6.3" stroke-width="1.7" transform="translate(920.90 1937.73)"/>
<path class="k" d="M0 0V-6.7M0 0L-6.2 -2.3M0 0L6.2 -2.3M0 0L-3.9 6.3M0 0L3.9 6.3" stroke-width="1.7" transform="translate(487.30 1981.28)"/>
<path class="k" d="M0 0V-6.7M0 0L-6.2 -2.3M0 0L6.2 -2.3M0 0L-3.9 6.3M0 0L3.9 6.3" stroke-width="1.7" transform="translate(866.70 1981.28)"/>
<path class="k" d="M0 0V-6.7M0 0L-6.2 -2.3M0 0L6.2 -2.3M0 0L-3.9 6.3M0 0L3.9 6.3" stroke-width="1.7" transform="translate(487.30 2024.83)"/>
<text x="440.10" y="1814.58" font-size="21.2" text-anchor="end" textLength="107.60" lengthAdjust="spacingAndGlyphs">Plasma AA</text>
<text x="440.10" y="1858.13" font-size="21.2" text-anchor="end" textLength="107.60" lengthAdjust="spacingAndGlyphs">Plasma PA</text>
<text x="440.10" y="1901.68" font-size="21.2" text-anchor="end" textLength="107.60" lengthAdjust="spacingAndGlyphs">Plasma BA</text>
<text x="440.10" y="1945.23" font-size="21.2" text-anchor="end" textLength="83.40" lengthAdjust="spacingAndGlyphs">Fecal AA</text>
<text x="440.10" y="1988.78" font-size="21.2" text-anchor="end" textLength="83.40" lengthAdjust="spacingAndGlyphs">Fecal PA</text>
<text x="440.10" y="2032.33" font-size="21.2" text-anchor="end" textLength="83.40" lengthAdjust="spacingAndGlyphs">Fecal BA</text>
<line x1="315.80" y1="1785.00" x2="315.80" y2="2048.10" stroke="#000" stroke-width="1.6"/>
<text x="202.00" y="1887.60" font-size="29.8" text-anchor="middle" font-weight="bold" textLength="167.50" lengthAdjust="spacingAndGlyphs" stroke="#000" stroke-width="0.5">Postprandial</text>
<text x="202.00" y="1924.90" font-size="29.8" text-anchor="middle" font-weight="bold" textLength="74.30" lengthAdjust="spacingAndGlyphs" stroke="#000" stroke-width="0.5">levels</text>
<text x="956.10" y="1805.80" font-size="21.9" text-anchor="start">Spearman</text>
<text x="956.10" y="1830.80" font-size="21.9" text-anchor="start">correlation</text>
<rect x="964.00" y="1844.20" width="22.70" height="115.30" fill="url(#ge)"/>
<line x1="964.00" y1="1848.60" x2="968.60" y2="1848.60" stroke="#fff" stroke-width="1.1"/>
<line x1="982.10" y1="1848.60" x2="986.70" y2="1848.60" stroke="#fff" stroke-width="1.1"/>
<line x1="964.00" y1="1875.30" x2="968.60" y2="1875.30" stroke="#fff" stroke-width="1.1"/>
<line x1="982.10" y1="1875.30" x2="986.70" y2="1875.30" stroke="#fff" stroke-width="1.1"/>
<line x1="964.00" y1="1902.10" x2="968.60" y2="1902.10" stroke="#fff" stroke-width="1.1"/>
<line x1="982.10" y1="1902.10" x2="986.70" y2="1902.10" stroke="#fff" stroke-width="1.1"/>
<line x1="964.00" y1="1928.60" x2="968.60" y2="1928.60" stroke="#fff" stroke-width="1.1"/>
<line x1="982.10" y1="1928.60" x2="986.70" y2="1928.60" stroke="#fff" stroke-width="1.1"/>
<line x1="964.00" y1="1955.10" x2="968.60" y2="1955.10" stroke="#fff" stroke-width="1.1"/>
<line x1="982.10" y1="1955.10" x2="986.70" y2="1955.10" stroke="#fff" stroke-width="1.1"/>
<text x="991.80" y="1855.20" font-size="18.5" text-anchor="start">1</text>
<text x="991.80" y="1881.90" font-size="18.5" text-anchor="start">0.5</text>
<text x="991.80" y="1908.70" font-size="18.5" text-anchor="start">0</text>
<text x="991.80" y="1935.20" font-size="18.5" text-anchor="start">−0.5</text>
<text x="991.80" y="1961.70" font-size="18.5" text-anchor="start">−1</text>
<text x="957.30" y="2004.50" font-size="21.9" text-anchor="start">P-value</text>
<path class="k" d="M0 0V-6.7M0 0L-6.2 -2.3M0 0L6.2 -2.3M0 0L-3.9 6.3M0 0L3.9 6.3" stroke-width="1.7" transform="translate(966.80 2030.30) scale(1.03)"/>
<text x="988.00" y="2037.20" font-size="18.3" text-anchor="start" textLength="52.20" lengthAdjust="spacingAndGlyphs">&lt; 0.05</text>
<text x="487.40" y="2074.50" font-size="27.2" text-anchor="end" font-style="italic" transform="rotate(-45 487.40 2074.50)">Alistipes finegoldii</text>
<text x="541.60" y="2074.50" font-size="27.2" text-anchor="end" font-style="italic" transform="rotate(-45 541.60 2074.50)">Mucispirillum schaedleri</text>
<text x="595.80" y="2074.50" font-size="27.2" text-anchor="end" font-style="italic" transform="rotate(-45 595.80 2074.50)">Clostridium leptum</text>
<text x="650.00" y="2074.50" font-size="27.2" text-anchor="end" font-style="italic" transform="rotate(-45 650.00 2074.50)">Alistipes indistinctus</text>
<text x="704.20" y="2074.50" font-size="27.2" text-anchor="end" font-style="italic" transform="rotate(-45 704.20 2074.50)">Ileibacterium valens</text>
<text x="758.40" y="2074.50" font-size="27.2" text-anchor="end" font-style="italic" transform="rotate(-45 758.40 2074.50)">Bacteroides dorei</text>
<text x="812.60" y="2074.50" font-size="27.2" text-anchor="end" font-style="italic" transform="rotate(-45 812.60 2074.50)">Bacteroides caecimuris</text>
<text x="866.80" y="2074.50" font-size="27.2" text-anchor="end" font-style="italic" transform="rotate(-45 866.80 2074.50)">Dubosiella newyorkensis</text>
<text x="927.00" y="2074.00" font-size="27.2" text-anchor="end" font-style="italic" transform="rotate(-45 927.00 2074.00)">Parabacteroides goldsteinii</text>
</svg></body></html>
